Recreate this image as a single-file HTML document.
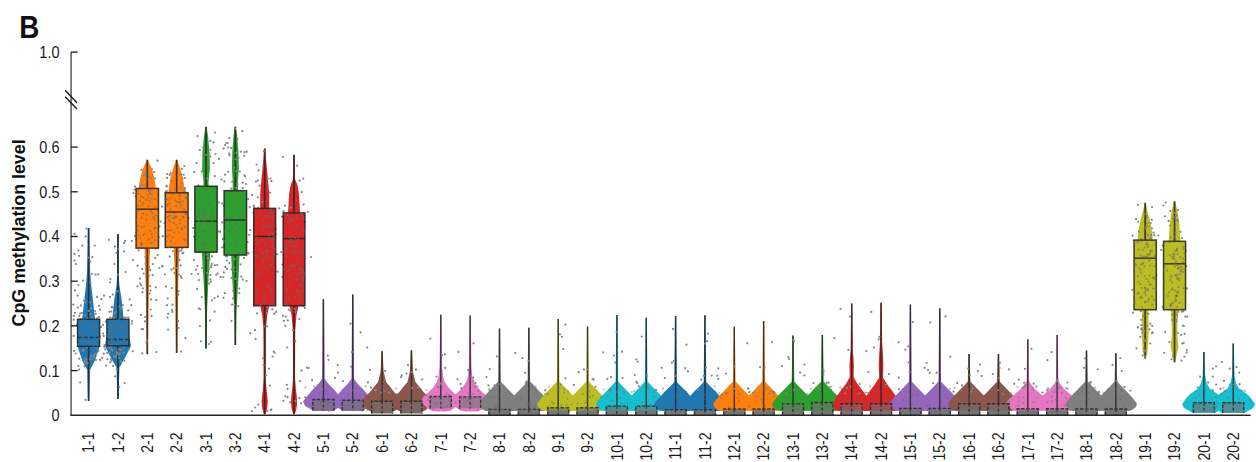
<!DOCTYPE html><html><head><meta charset="utf-8"><style>html,body{margin:0;padding:0;background:#fff;width:1256px;height:462px;overflow:hidden;position:relative}</style></head><body><svg width="1256" height="462" viewBox="0 0 1256 462" style="position:absolute;left:0;top:0">
<rect width="1256" height="462" fill="#fff"/>
<path d="M89.20,228.00 L89.60,250.00 L90.20,273.00 L91.30,286.00 L92.80,299.00 L94.20,312.00 L95.10,319.00 L99.60,346.00 L98.20,351.00 L94.30,362.00 L89.90,370.00 L89.60,385.00 L89.20,401.00 L88.00,401.00 L87.60,385.00 L87.30,370.00 L82.90,362.00 L79.00,351.00 L77.60,346.00 L82.10,319.00 L83.00,312.00 L84.40,299.00 L85.90,286.00 L87.00,273.00 L87.60,250.00 L88.00,228.00Z" fill="#1f77b4"/>
<path d="M118.55,234.00 L118.95,279.00 L119.45,286.00 L121.55,299.00 L122.95,312.00 L123.55,319.00 L129.95,340.00 L130.95,345.80 L128.95,350.00 L125.55,356.70 L119.45,367.50 L118.95,385.00 L118.55,399.00 L117.35,399.00 L116.95,385.00 L116.45,367.50 L110.35,356.70 L106.95,350.00 L104.95,345.80 L105.95,340.00 L112.35,319.00 L112.95,312.00 L114.35,299.00 L116.45,286.00 L116.95,279.00 L117.35,234.00Z" fill="#1f77b4"/>
<path d="M147.80,159.75 L149.10,163.00 L150.70,166.30 L152.70,171.70 L154.10,177.00 L155.10,182.50 L155.90,188.50 L150.10,248.00 L148.80,290.00 L148.20,330.00 L147.80,354.00 L146.80,354.00 L146.40,330.00 L145.80,290.00 L144.50,248.00 L138.70,188.50 L139.50,182.50 L140.50,177.00 L141.90,171.70 L143.90,166.30 L145.50,163.00 L146.80,159.75Z" fill="#ff7f0e"/>
<path d="M177.15,159.75 L178.15,163.00 L179.45,166.30 L181.05,171.70 L182.65,177.00 L183.65,182.50 L184.45,188.00 L184.95,192.80 L179.55,247.40 L178.35,280.00 L177.55,330.00 L177.15,353.00 L176.15,353.00 L175.75,330.00 L174.95,280.00 L173.75,247.40 L168.35,192.80 L168.85,188.00 L169.65,182.50 L170.65,177.00 L172.25,171.70 L173.85,166.30 L175.15,163.00 L176.15,159.75Z" fill="#ff7f0e"/>
<path d="M206.50,126.80 L208.10,136.20 L209.50,152.50 L209.90,168.70 L208.50,181.70 L208.70,186.30 L210.20,252.10 L208.40,280.70 L207.00,311.70 L206.50,348.60 L205.50,348.60 L205.00,311.70 L203.60,280.70 L201.80,252.10 L203.30,186.30 L203.50,181.70 L202.10,168.70 L202.50,152.50 L203.90,136.20 L205.50,126.80Z" fill="#2ca02c"/>
<path d="M235.85,126.80 L237.15,136.00 L238.45,152.00 L238.85,168.00 L237.95,182.00 L238.05,190.70 L239.55,255.00 L238.35,281.00 L236.35,311.00 L235.85,345.00 L234.85,345.00 L234.35,311.00 L232.35,281.00 L231.15,255.00 L232.65,190.70 L232.75,182.00 L231.85,168.00 L232.25,152.00 L233.55,136.00 L234.85,126.80Z" fill="#2ca02c"/>
<path d="M265.20,148.60 L266.20,161.20 L267.80,177.50 L269.20,193.70 L269.20,206.70 L269.30,208.40 L269.20,305.70 L267.20,315.00 L265.90,330.00 L265.70,378.00 L266.60,390.00 L267.40,396.00 L267.80,402.00 L267.30,408.00 L266.00,412.50 L265.20,414.50 L264.20,414.50 L263.40,412.50 L262.10,408.00 L261.60,402.00 L262.00,396.00 L262.80,390.00 L263.70,378.00 L263.50,330.00 L262.20,315.00 L260.20,305.70 L260.10,208.40 L260.20,206.70 L260.20,193.70 L261.60,177.50 L263.20,161.20 L264.20,148.60Z" fill="#d62728"/>
<path d="M294.55,154.70 L295.05,179.00 L297.55,185.60 L298.95,193.70 L299.75,206.70 L300.05,212.90 L298.55,305.70 L296.55,315.00 L295.25,330.00 L295.05,378.00 L295.95,390.00 L296.75,396.00 L297.15,402.00 L296.65,408.00 L295.35,412.50 L294.55,414.50 L293.55,414.50 L292.75,412.50 L291.45,408.00 L290.95,402.00 L291.35,396.00 L292.15,390.00 L293.05,378.00 L292.85,330.00 L291.55,315.00 L289.55,305.70 L288.05,212.90 L288.35,206.70 L289.15,193.70 L290.55,185.60 L293.05,179.00 L293.55,154.70Z" fill="#d62728"/>
<path d="M324.00,298.90 L324.70,378.80 L327.90,383.30 L334.00,389.40 L338.40,394.70 L343.90,401.50 L341.70,406.00 L336.40,409.00 L333.40,411.00 L313.40,411.00 L310.40,409.00 L305.10,406.00 L302.90,401.50 L308.40,394.70 L312.80,389.40 L318.90,383.30 L322.10,378.80 L322.80,298.90Z" fill="#9467bd"/>
<path d="M353.35,294.60 L354.05,378.80 L357.25,383.30 L363.35,389.40 L367.75,394.70 L373.25,401.50 L371.05,406.00 L365.75,409.00 L362.75,411.00 L342.75,411.00 L339.75,409.00 L334.45,406.00 L332.25,401.50 L337.75,394.70 L342.15,389.40 L348.25,383.30 L351.45,378.80 L352.15,294.60Z" fill="#9467bd"/>
<path d="M382.70,351.30 L383.60,371.20 L384.80,376.60 L386.10,382.00 L388.00,384.20 L390.70,387.40 L394.80,392.80 L398.90,396.00 L401.10,401.50 L399.60,407.00 L396.60,410.00 L393.10,411.50 L371.10,411.50 L367.60,410.00 L364.60,407.00 L363.10,401.50 L365.30,396.00 L369.40,392.80 L373.50,387.40 L376.20,384.20 L378.10,382.00 L379.40,376.60 L380.60,371.20 L381.50,351.30Z" fill="#8c564b"/>
<path d="M412.05,350.30 L412.95,371.20 L414.15,376.60 L415.45,382.00 L417.35,384.20 L420.05,387.40 L424.15,392.80 L428.25,396.00 L430.45,401.50 L428.95,407.00 L425.95,410.00 L422.45,411.50 L400.45,411.50 L396.95,410.00 L393.95,407.00 L392.45,401.50 L394.65,396.00 L398.75,392.80 L402.85,387.40 L405.55,384.20 L407.45,382.00 L408.75,376.60 L409.95,371.20 L410.85,350.30Z" fill="#8c564b"/>
<path d="M441.40,314.80 L442.10,366.00 L443.00,376.60 L444.80,382.00 L448.40,387.40 L453.50,392.80 L457.60,396.00 L460.20,400.00 L458.80,404.00 L455.50,407.00 L450.80,410.50 L445.80,411.50 L435.80,411.50 L430.80,410.50 L426.10,407.00 L422.80,404.00 L421.40,400.00 L424.00,396.00 L428.10,392.80 L433.20,387.40 L436.80,382.00 L438.60,376.60 L439.50,366.00 L440.20,314.80Z" fill="#e377c2"/>
<path d="M470.75,315.50 L471.45,366.00 L472.35,376.60 L474.15,382.00 L477.75,387.40 L482.85,392.80 L486.95,396.00 L489.55,400.00 L488.15,404.00 L484.85,407.00 L480.15,410.50 L475.15,411.50 L465.15,411.50 L460.15,410.50 L455.45,407.00 L452.15,404.00 L450.75,400.00 L453.35,396.00 L457.45,392.80 L462.55,387.40 L466.15,382.00 L467.95,376.60 L468.85,366.00 L469.55,315.50Z" fill="#e377c2"/>
<path d="M500.10,328.60 L500.80,381.50 L504.50,385.50 L510.30,391.50 L514.20,395.60 L517.50,399.50 L520.50,403.50 L520.00,406.50 L516.50,409.50 L513.00,411.00 L486.00,411.00 L482.50,409.50 L479.00,406.50 L478.50,403.50 L481.50,399.50 L484.80,395.60 L488.70,391.50 L494.50,385.50 L498.20,381.50 L498.90,328.60Z" fill="#7f7f7f"/>
<path d="M529.45,327.80 L530.15,381.50 L533.85,385.50 L539.65,391.50 L543.55,395.60 L546.85,399.50 L549.85,403.50 L549.35,406.50 L545.85,409.50 L542.35,411.00 L515.35,411.00 L511.85,409.50 L508.35,406.50 L507.85,403.50 L510.85,399.50 L514.15,395.60 L518.05,391.50 L523.85,385.50 L527.55,381.50 L528.25,327.80Z" fill="#7f7f7f"/>
<path d="M558.80,319.00 L559.50,381.50 L563.20,385.50 L569.00,391.50 L572.90,395.60 L576.20,399.50 L579.20,403.50 L578.70,406.50 L575.20,409.50 L571.70,411.00 L544.70,411.00 L541.20,409.50 L537.70,406.50 L537.20,403.50 L540.20,399.50 L543.50,395.60 L547.40,391.50 L553.20,385.50 L556.90,381.50 L557.60,319.00Z" fill="#bcbd22"/>
<path d="M588.15,326.50 L588.85,381.50 L592.55,385.50 L598.35,391.50 L602.25,395.60 L605.55,399.50 L608.55,403.50 L608.05,406.50 L604.55,409.50 L601.05,411.00 L574.05,411.00 L570.55,409.50 L567.05,406.50 L566.55,403.50 L569.55,399.50 L572.85,395.60 L576.75,391.50 L582.55,385.50 L586.25,381.50 L586.95,326.50Z" fill="#bcbd22"/>
<path d="M617.50,315.00 L618.20,381.50 L621.90,385.50 L627.70,391.50 L631.60,395.60 L634.90,399.50 L637.90,403.50 L637.40,406.50 L633.90,409.50 L630.40,411.00 L603.40,411.00 L599.90,409.50 L596.40,406.50 L595.90,403.50 L598.90,399.50 L602.20,395.60 L606.10,391.50 L611.90,385.50 L615.60,381.50 L616.30,315.00Z" fill="#17becf"/>
<path d="M646.85,317.70 L647.55,381.50 L651.25,385.50 L657.05,391.50 L660.95,395.60 L664.25,399.50 L667.25,403.50 L666.75,406.50 L663.25,409.50 L659.75,411.00 L632.75,411.00 L629.25,409.50 L625.75,406.50 L625.25,403.50 L628.25,399.50 L631.55,395.60 L635.45,391.50 L641.25,385.50 L644.95,381.50 L645.65,317.70Z" fill="#17becf"/>
<path d="M676.20,316.00 L676.90,382.00 L680.60,386.00 L686.40,391.50 L690.30,396.00 L693.60,399.50 L697.10,403.50 L696.60,406.50 L692.60,409.50 L689.10,411.00 L662.10,411.00 L658.60,409.50 L654.60,406.50 L654.10,403.50 L657.60,399.50 L660.90,396.00 L664.80,391.50 L670.60,386.00 L674.30,382.00 L675.00,316.00Z" fill="#1f77b4"/>
<path d="M705.55,315.30 L706.25,382.00 L709.95,386.00 L715.75,391.50 L719.65,396.00 L722.95,399.50 L726.45,403.50 L725.95,406.50 L721.95,409.50 L718.45,411.00 L691.45,411.00 L687.95,409.50 L683.95,406.50 L683.45,403.50 L686.95,399.50 L690.25,396.00 L694.15,391.50 L699.95,386.00 L703.65,382.00 L704.35,315.30Z" fill="#1f77b4"/>
<path d="M734.90,326.60 L735.60,381.50 L739.30,385.50 L745.10,391.50 L749.00,395.60 L752.30,399.50 L755.30,403.50 L754.80,406.50 L751.30,409.50 L747.80,411.00 L720.80,411.00 L717.30,409.50 L713.80,406.50 L713.30,403.50 L716.30,399.50 L719.60,395.60 L723.50,391.50 L729.30,385.50 L733.00,381.50 L733.70,326.60Z" fill="#ff7f0e"/>
<path d="M764.25,321.00 L764.95,381.50 L768.65,385.50 L774.45,391.50 L778.35,395.60 L781.65,399.50 L784.65,403.50 L784.15,406.50 L780.65,409.50 L777.15,411.00 L750.15,411.00 L746.65,409.50 L743.15,406.50 L742.65,403.50 L745.65,399.50 L748.95,395.60 L752.85,391.50 L758.65,385.50 L762.35,381.50 L763.05,321.00Z" fill="#ff7f0e"/>
<path d="M793.60,335.60 L794.30,381.50 L798.00,385.50 L803.80,391.50 L807.70,395.60 L811.00,399.50 L814.00,403.50 L813.50,406.50 L810.00,409.50 L806.50,411.00 L779.50,411.00 L776.00,409.50 L772.50,406.50 L772.00,403.50 L775.00,399.50 L778.30,395.60 L782.20,391.50 L788.00,385.50 L791.70,381.50 L792.40,335.60Z" fill="#2ca02c"/>
<path d="M822.95,335.00 L823.65,381.50 L827.35,385.50 L833.15,391.50 L837.05,395.60 L840.35,399.50 L843.35,403.50 L842.85,406.50 L839.35,409.50 L835.85,411.00 L808.85,411.00 L805.35,409.50 L801.85,406.50 L801.35,403.50 L804.35,399.50 L807.65,395.60 L811.55,391.50 L817.35,385.50 L821.05,381.50 L821.75,335.00Z" fill="#2ca02c"/>
<path d="M852.30,303.50 L852.80,350.00 L853.50,358.00 L853.90,366.00 L853.60,377.00 L857.20,383.50 L862.20,390.00 L866.70,396.30 L869.10,400.70 L871.70,405.00 L870.70,408.00 L865.70,411.00 L837.70,411.00 L832.70,408.00 L831.70,405.00 L834.30,400.70 L836.70,396.30 L841.20,390.00 L846.20,383.50 L849.80,377.00 L849.50,366.00 L849.90,358.00 L850.60,350.00 L851.10,303.50Z" fill="#d62728"/>
<path d="M881.65,302.70 L882.15,342.40 L883.05,356.80 L883.35,365.00 L882.95,377.40 L888.05,385.60 L891.55,390.00 L896.05,396.30 L898.45,400.70 L901.05,405.00 L900.05,408.00 L895.05,411.00 L867.05,411.00 L862.05,408.00 L861.05,405.00 L863.65,400.70 L866.05,396.30 L870.55,390.00 L874.05,385.60 L879.15,377.40 L878.75,365.00 L879.05,356.80 L879.95,342.40 L880.45,302.70Z" fill="#d62728"/>
<path d="M911.00,304.60 L911.70,381.50 L915.40,385.50 L921.20,391.50 L925.10,395.60 L928.40,399.50 L931.40,403.50 L930.90,406.50 L927.40,409.50 L923.90,411.00 L896.90,411.00 L893.40,409.50 L889.90,406.50 L889.40,403.50 L892.40,399.50 L895.70,395.60 L899.60,391.50 L905.40,385.50 L909.10,381.50 L909.80,304.60Z" fill="#9467bd"/>
<path d="M940.35,308.30 L941.05,381.50 L944.75,385.50 L950.55,391.50 L954.45,395.60 L957.75,399.50 L960.75,403.50 L960.25,406.50 L956.75,409.50 L953.25,411.00 L926.25,411.00 L922.75,409.50 L919.25,406.50 L918.75,403.50 L921.75,399.50 L925.05,395.60 L928.95,391.50 L934.75,385.50 L938.45,381.50 L939.15,308.30Z" fill="#9467bd"/>
<path d="M969.70,354.10 L970.40,381.50 L974.10,385.50 L979.90,391.50 L983.80,395.60 L987.10,399.50 L990.10,403.50 L989.60,406.50 L986.10,409.50 L982.60,411.00 L955.60,411.00 L952.10,409.50 L948.60,406.50 L948.10,403.50 L951.10,399.50 L954.40,395.60 L958.30,391.50 L964.10,385.50 L967.80,381.50 L968.50,354.10Z" fill="#8c564b"/>
<path d="M999.05,354.00 L999.75,381.50 L1003.45,385.50 L1009.25,391.50 L1013.15,395.60 L1016.45,399.50 L1019.45,403.50 L1018.95,406.50 L1015.45,409.50 L1011.95,411.00 L984.95,411.00 L981.45,409.50 L977.95,406.50 L977.45,403.50 L980.45,399.50 L983.75,395.60 L987.65,391.50 L993.45,385.50 L997.15,381.50 L997.85,354.00Z" fill="#8c564b"/>
<path d="M1028.40,339.30 L1029.00,380.50 L1030.30,383.30 L1035.40,389.40 L1042.50,395.50 L1049.00,401.50 L1048.30,405.00 L1043.80,409.80 L1041.30,411.00 L1014.30,411.00 L1011.80,409.80 L1007.30,405.00 L1006.60,401.50 L1013.10,395.50 L1020.20,389.40 L1025.30,383.30 L1026.60,380.50 L1027.20,339.30Z" fill="#e377c2"/>
<path d="M1057.75,335.00 L1058.35,380.50 L1059.65,383.30 L1064.75,389.40 L1071.85,395.50 L1078.35,401.50 L1077.65,405.00 L1073.15,409.80 L1070.65,411.00 L1043.65,411.00 L1041.15,409.80 L1036.65,405.00 L1035.95,401.50 L1042.45,395.50 L1049.55,389.40 L1054.65,383.30 L1055.95,380.50 L1056.55,335.00Z" fill="#e377c2"/>
<path d="M1087.10,350.50 L1087.80,381.50 L1091.50,385.50 L1097.30,391.50 L1101.20,395.60 L1104.50,399.50 L1107.50,403.50 L1107.00,406.50 L1103.50,409.50 L1100.00,411.00 L1073.00,411.00 L1069.50,409.50 L1066.00,406.50 L1065.50,403.50 L1068.50,399.50 L1071.80,395.60 L1075.70,391.50 L1081.50,385.50 L1085.20,381.50 L1085.90,350.50Z" fill="#7f7f7f"/>
<path d="M1116.45,353.30 L1117.15,381.50 L1120.85,385.50 L1126.65,391.50 L1130.55,395.60 L1133.85,399.50 L1136.85,403.50 L1136.35,406.50 L1132.85,409.50 L1129.35,411.00 L1102.35,411.00 L1098.85,409.50 L1095.35,406.50 L1094.85,403.50 L1097.85,399.50 L1101.15,395.60 L1105.05,391.50 L1110.85,385.50 L1114.55,381.50 L1115.25,353.30Z" fill="#7f7f7f"/>
<path d="M1145.70,202.70 L1147.40,211.00 L1150.30,222.00 L1152.20,233.00 L1152.70,240.10 L1148.40,309.70 L1148.40,312.00 L1148.70,333.00 L1147.70,351.40 L1145.70,358.40 L1144.70,358.40 L1142.70,351.40 L1141.70,333.00 L1142.00,312.00 L1142.00,309.70 L1137.70,240.10 L1138.20,233.00 L1140.10,222.00 L1143.00,211.00 L1144.70,202.70Z" fill="#bcbd22"/>
<path d="M1175.05,201.30 L1177.55,211.00 L1179.15,222.00 L1179.95,233.00 L1180.35,241.30 L1178.45,309.70 L1177.35,326.00 L1177.35,336.00 L1178.45,347.00 L1175.05,362.30 L1174.05,362.30 L1170.65,347.00 L1171.75,336.00 L1171.75,326.00 L1170.65,309.70 L1168.75,241.30 L1169.15,233.00 L1169.95,222.00 L1171.55,211.00 L1174.05,201.30Z" fill="#bcbd22"/>
<path d="M1204.50,352.00 L1205.20,376.00 L1206.70,383.00 L1209.70,388.40 L1217.90,394.20 L1221.40,398.00 L1225.70,404.00 L1223.90,408.00 L1215.40,412.80 L1192.40,412.80 L1183.90,408.00 L1182.10,404.00 L1186.40,398.00 L1189.90,394.20 L1198.10,388.40 L1201.10,383.00 L1202.60,376.00 L1203.30,352.00Z" fill="#17becf"/>
<path d="M1233.85,343.60 L1234.55,376.00 L1236.05,383.00 L1239.05,388.40 L1247.25,394.20 L1250.75,398.00 L1255.05,404.00 L1253.25,408.00 L1244.75,412.80 L1221.75,412.80 L1213.25,408.00 L1211.45,404.00 L1215.75,398.00 L1219.25,394.20 L1227.45,388.40 L1230.45,383.00 L1231.95,376.00 L1232.65,343.60Z" fill="#17becf"/>
<path d="M88.60 228.00V319.30M88.60 346.30V401.00" stroke="#263139" stroke-width="1.7"/>
<path d="M117.95 234.00V319.30M117.95 345.80V399.00" stroke="#263139" stroke-width="1.7"/>
<path d="M147.30 159.75V188.50M147.30 248.10V354.30" stroke="#423223" stroke-width="1.7"/>
<path d="M176.65 159.75V192.80M176.65 247.40V353.00" stroke="#423223" stroke-width="1.7"/>
<path d="M206.00 126.80V186.30M206.00 252.10V348.60" stroke="#273627" stroke-width="1.7"/>
<path d="M235.35 126.80V190.70M235.35 255.00V345.00" stroke="#273627" stroke-width="1.7"/>
<path d="M264.70 148.60V208.40M264.70 305.70V414.00" stroke="#3d2627" stroke-width="1.7"/>
<path d="M294.05 154.70V212.90M294.05 305.70V414.00" stroke="#3d2627" stroke-width="1.7"/>
<line x1="323.40" y1="298.90" x2="323.40" y2="399.50" stroke="#342f3a" stroke-width="1.45"/>
<rect x="312.40" y="399.50" width="22" height="11.10" fill="#7e6c8f"/>
<path d="M312.90 410.60V399.50H333.90V410.60" fill="none" stroke="#342f3a" stroke-width="1.4" stroke-dasharray="3.5,1.5"/>
<line x1="323.40" y1="399.50" x2="323.40" y2="410.60" stroke="#342f3a" stroke-width="1.3" stroke-dasharray="3,2"/>
<line x1="352.75" y1="294.60" x2="352.75" y2="400.30" stroke="#342f3a" stroke-width="1.45"/>
<rect x="341.75" y="400.30" width="22" height="10.30" fill="#7e6c8f"/>
<path d="M342.25 410.60V400.30H363.25V410.60" fill="none" stroke="#342f3a" stroke-width="1.4" stroke-dasharray="3.5,1.5"/>
<line x1="352.75" y1="400.30" x2="352.75" y2="410.60" stroke="#342f3a" stroke-width="1.3" stroke-dasharray="3,2"/>
<line x1="382.10" y1="351.30" x2="382.10" y2="401.30" stroke="#342d2b" stroke-width="1.45"/>
<rect x="371.10" y="401.30" width="22" height="12.20" fill="#7b6661"/>
<path d="M371.60 413.50V401.30H392.60V413.50" fill="none" stroke="#342d2b" stroke-width="1.4" stroke-dasharray="3.5,1.5"/>
<line x1="382.10" y1="401.30" x2="382.10" y2="413.50" stroke="#342d2b" stroke-width="1.3" stroke-dasharray="3,2"/>
<line x1="411.45" y1="350.30" x2="411.45" y2="401.30" stroke="#342d2b" stroke-width="1.45"/>
<rect x="400.45" y="401.30" width="22" height="12.20" fill="#7b6661"/>
<path d="M400.95 413.50V401.30H421.95V413.50" fill="none" stroke="#342d2b" stroke-width="1.4" stroke-dasharray="3.5,1.5"/>
<line x1="411.45" y1="401.30" x2="411.45" y2="413.50" stroke="#342d2b" stroke-width="1.3" stroke-dasharray="3,2"/>
<line x1="440.80" y1="314.80" x2="440.80" y2="396.50" stroke="#3f313a" stroke-width="1.45"/>
<rect x="429.80" y="396.50" width="22" height="11.90" fill="#9e7391"/>
<path d="M430.30 408.40V396.50H451.30V408.40" fill="none" stroke="#3f313a" stroke-width="1.4" stroke-dasharray="3.5,1.5"/>
<line x1="440.80" y1="396.50" x2="440.80" y2="408.40" stroke="#3f313a" stroke-width="1.3" stroke-dasharray="3,2"/>
<line x1="470.15" y1="315.50" x2="470.15" y2="396.90" stroke="#3f313a" stroke-width="1.45"/>
<rect x="459.15" y="396.90" width="22" height="11.50" fill="#9e7391"/>
<path d="M459.65 408.40V396.90H480.65V408.40" fill="none" stroke="#3f313a" stroke-width="1.4" stroke-dasharray="3.5,1.5"/>
<line x1="470.15" y1="396.90" x2="470.15" y2="408.40" stroke="#3f313a" stroke-width="1.3" stroke-dasharray="3,2"/>
<line x1="499.50" y1="328.60" x2="499.50" y2="409.40" stroke="#323232" stroke-width="1.45"/>
<rect x="488.50" y="409.40" width="22" height="5.60" fill="#767676"/>
<rect x="488.50" y="410.6" width="22" height="4.40" fill="#757575"/>
<path d="M489.00 415.00V409.40H510.00V415.00" fill="none" stroke="#323232" stroke-width="1.4" stroke-dasharray="3.5,1.5"/>
<line x1="499.50" y1="409.40" x2="499.50" y2="415.00" stroke="#323232" stroke-width="1.3" stroke-dasharray="3,2"/>
<line x1="528.85" y1="327.80" x2="528.85" y2="409.40" stroke="#323232" stroke-width="1.45"/>
<rect x="517.85" y="409.40" width="22" height="5.60" fill="#767676"/>
<rect x="517.85" y="410.6" width="22" height="4.40" fill="#757575"/>
<path d="M518.35 415.00V409.40H539.35V415.00" fill="none" stroke="#323232" stroke-width="1.4" stroke-dasharray="3.5,1.5"/>
<line x1="528.85" y1="409.40" x2="528.85" y2="415.00" stroke="#323232" stroke-width="1.3" stroke-dasharray="3,2"/>
<line x1="558.20" y1="319.00" x2="558.20" y2="407.80" stroke="#3a3a26" stroke-width="1.45"/>
<rect x="547.20" y="407.80" width="22" height="7.20" fill="#8e8f51"/>
<rect x="547.20" y="410.6" width="22" height="4.40" fill="#757575"/>
<path d="M547.70 415.00V407.80H568.70V415.00" fill="none" stroke="#3a3a26" stroke-width="1.4" stroke-dasharray="3.5,1.5"/>
<line x1="558.20" y1="407.80" x2="558.20" y2="415.00" stroke="#3a3a26" stroke-width="1.3" stroke-dasharray="3,2"/>
<line x1="587.55" y1="326.50" x2="587.55" y2="407.80" stroke="#3a3a26" stroke-width="1.45"/>
<rect x="576.55" y="407.80" width="22" height="7.20" fill="#8e8f51"/>
<rect x="576.55" y="410.6" width="22" height="4.40" fill="#757575"/>
<path d="M577.05 415.00V407.80H598.05V415.00" fill="none" stroke="#3a3a26" stroke-width="1.4" stroke-dasharray="3.5,1.5"/>
<line x1="587.55" y1="407.80" x2="587.55" y2="415.00" stroke="#3a3a26" stroke-width="1.3" stroke-dasharray="3,2"/>
<line x1="616.90" y1="315.00" x2="616.90" y2="406.10" stroke="#243a3c" stroke-width="1.45"/>
<rect x="605.90" y="406.10" width="22" height="8.90" fill="#4c8f96"/>
<rect x="605.90" y="410.6" width="22" height="4.40" fill="#757575"/>
<path d="M606.40 415.00V406.10H627.40V415.00" fill="none" stroke="#243a3c" stroke-width="1.4" stroke-dasharray="3.5,1.5"/>
<line x1="616.90" y1="406.10" x2="616.90" y2="415.00" stroke="#243a3c" stroke-width="1.3" stroke-dasharray="3,2"/>
<line x1="646.25" y1="317.70" x2="646.25" y2="406.10" stroke="#243a3c" stroke-width="1.45"/>
<rect x="635.25" y="406.10" width="22" height="8.90" fill="#4c8f96"/>
<rect x="635.25" y="410.6" width="22" height="4.40" fill="#757575"/>
<path d="M635.75 415.00V406.10H656.75V415.00" fill="none" stroke="#243a3c" stroke-width="1.4" stroke-dasharray="3.5,1.5"/>
<line x1="646.25" y1="406.10" x2="646.25" y2="415.00" stroke="#243a3c" stroke-width="1.3" stroke-dasharray="3,2"/>
<line x1="675.60" y1="316.00" x2="675.60" y2="409.60" stroke="#263139" stroke-width="1.45"/>
<rect x="664.60" y="409.60" width="22" height="5.40" fill="#50738b"/>
<rect x="664.60" y="410.6" width="22" height="4.40" fill="#757575"/>
<path d="M665.10 415.00V409.60H686.10V415.00" fill="none" stroke="#263139" stroke-width="1.4" stroke-dasharray="3.5,1.5"/>
<line x1="675.60" y1="409.60" x2="675.60" y2="415.00" stroke="#263139" stroke-width="1.3" stroke-dasharray="3,2"/>
<line x1="704.95" y1="315.30" x2="704.95" y2="409.60" stroke="#263139" stroke-width="1.45"/>
<rect x="693.95" y="409.60" width="22" height="5.40" fill="#50738b"/>
<rect x="693.95" y="410.6" width="22" height="4.40" fill="#757575"/>
<path d="M694.45 415.00V409.60H715.45V415.00" fill="none" stroke="#263139" stroke-width="1.4" stroke-dasharray="3.5,1.5"/>
<line x1="704.95" y1="409.60" x2="704.95" y2="415.00" stroke="#263139" stroke-width="1.3" stroke-dasharray="3,2"/>
<line x1="734.30" y1="326.60" x2="734.30" y2="409.00" stroke="#423223" stroke-width="1.45"/>
<rect x="723.30" y="409.00" width="22" height="6.00" fill="#a97649"/>
<rect x="723.30" y="410.6" width="22" height="4.40" fill="#757575"/>
<path d="M723.80 415.00V409.00H744.80V415.00" fill="none" stroke="#423223" stroke-width="1.4" stroke-dasharray="3.5,1.5"/>
<line x1="734.30" y1="409.00" x2="734.30" y2="415.00" stroke="#423223" stroke-width="1.3" stroke-dasharray="3,2"/>
<line x1="763.65" y1="321.00" x2="763.65" y2="409.00" stroke="#423223" stroke-width="1.45"/>
<rect x="752.65" y="409.00" width="22" height="6.00" fill="#a97649"/>
<rect x="752.65" y="410.6" width="22" height="4.40" fill="#757575"/>
<path d="M753.15 415.00V409.00H774.15V415.00" fill="none" stroke="#423223" stroke-width="1.4" stroke-dasharray="3.5,1.5"/>
<line x1="763.65" y1="409.00" x2="763.65" y2="415.00" stroke="#423223" stroke-width="1.3" stroke-dasharray="3,2"/>
<line x1="793.00" y1="335.60" x2="793.00" y2="403.90" stroke="#273627" stroke-width="1.45"/>
<rect x="782.00" y="403.90" width="22" height="11.10" fill="#558355"/>
<rect x="782.00" y="410.6" width="22" height="4.40" fill="#757575"/>
<path d="M782.50 415.00V403.90H803.50V415.00" fill="none" stroke="#273627" stroke-width="1.4" stroke-dasharray="3.5,1.5"/>
<line x1="793.00" y1="403.90" x2="793.00" y2="415.00" stroke="#273627" stroke-width="1.3" stroke-dasharray="3,2"/>
<line x1="822.35" y1="335.00" x2="822.35" y2="402.50" stroke="#273627" stroke-width="1.45"/>
<rect x="811.35" y="402.50" width="22" height="12.50" fill="#558355"/>
<rect x="811.35" y="410.6" width="22" height="4.40" fill="#757575"/>
<path d="M811.85 415.00V402.50H832.85V415.00" fill="none" stroke="#273627" stroke-width="1.4" stroke-dasharray="3.5,1.5"/>
<line x1="822.35" y1="402.50" x2="822.35" y2="415.00" stroke="#273627" stroke-width="1.3" stroke-dasharray="3,2"/>
<line x1="851.70" y1="303.50" x2="851.70" y2="403.80" stroke="#3d2627" stroke-width="1.45"/>
<rect x="840.70" y="403.80" width="22" height="11.20" fill="#995353"/>
<rect x="840.70" y="410.6" width="22" height="4.40" fill="#757575"/>
<path d="M841.20 415.00V403.80H862.20V415.00" fill="none" stroke="#3d2627" stroke-width="1.4" stroke-dasharray="3.5,1.5"/>
<line x1="851.70" y1="403.80" x2="851.70" y2="415.00" stroke="#3d2627" stroke-width="1.3" stroke-dasharray="3,2"/>
<line x1="881.05" y1="302.70" x2="881.05" y2="403.80" stroke="#3d2627" stroke-width="1.45"/>
<rect x="870.05" y="403.80" width="22" height="11.20" fill="#995353"/>
<rect x="870.05" y="410.6" width="22" height="4.40" fill="#757575"/>
<path d="M870.55 415.00V403.80H891.55V415.00" fill="none" stroke="#3d2627" stroke-width="1.4" stroke-dasharray="3.5,1.5"/>
<line x1="881.05" y1="403.80" x2="881.05" y2="415.00" stroke="#3d2627" stroke-width="1.3" stroke-dasharray="3,2"/>
<line x1="910.40" y1="304.60" x2="910.40" y2="408.40" stroke="#342f3a" stroke-width="1.45"/>
<rect x="899.40" y="408.40" width="22" height="6.60" fill="#7e6c8f"/>
<rect x="899.40" y="410.6" width="22" height="4.40" fill="#757575"/>
<path d="M899.90 415.00V408.40H920.90V415.00" fill="none" stroke="#342f3a" stroke-width="1.4" stroke-dasharray="3.5,1.5"/>
<line x1="910.40" y1="408.40" x2="910.40" y2="415.00" stroke="#342f3a" stroke-width="1.3" stroke-dasharray="3,2"/>
<line x1="939.75" y1="308.30" x2="939.75" y2="408.40" stroke="#342f3a" stroke-width="1.45"/>
<rect x="928.75" y="408.40" width="22" height="6.60" fill="#7e6c8f"/>
<rect x="928.75" y="410.6" width="22" height="4.40" fill="#757575"/>
<path d="M929.25 415.00V408.40H950.25V415.00" fill="none" stroke="#342f3a" stroke-width="1.4" stroke-dasharray="3.5,1.5"/>
<line x1="939.75" y1="408.40" x2="939.75" y2="415.00" stroke="#342f3a" stroke-width="1.3" stroke-dasharray="3,2"/>
<line x1="969.10" y1="354.10" x2="969.10" y2="403.80" stroke="#342d2b" stroke-width="1.45"/>
<rect x="958.10" y="403.80" width="22" height="11.20" fill="#7b6661"/>
<rect x="958.10" y="410.6" width="22" height="4.40" fill="#757575"/>
<path d="M958.60 415.00V403.80H979.60V415.00" fill="none" stroke="#342d2b" stroke-width="1.4" stroke-dasharray="3.5,1.5"/>
<line x1="969.10" y1="403.80" x2="969.10" y2="415.00" stroke="#342d2b" stroke-width="1.3" stroke-dasharray="3,2"/>
<line x1="998.45" y1="354.00" x2="998.45" y2="403.80" stroke="#342d2b" stroke-width="1.45"/>
<rect x="987.45" y="403.80" width="22" height="11.20" fill="#7b6661"/>
<rect x="987.45" y="410.6" width="22" height="4.40" fill="#757575"/>
<path d="M987.95 415.00V403.80H1008.95V415.00" fill="none" stroke="#342d2b" stroke-width="1.4" stroke-dasharray="3.5,1.5"/>
<line x1="998.45" y1="403.80" x2="998.45" y2="415.00" stroke="#342d2b" stroke-width="1.3" stroke-dasharray="3,2"/>
<line x1="1027.80" y1="339.30" x2="1027.80" y2="408.80" stroke="#3f313a" stroke-width="1.45"/>
<rect x="1016.80" y="408.80" width="22" height="6.20" fill="#9e7391"/>
<rect x="1016.80" y="410.6" width="22" height="4.40" fill="#757575"/>
<path d="M1017.30 415.00V408.80H1038.30V415.00" fill="none" stroke="#3f313a" stroke-width="1.4" stroke-dasharray="3.5,1.5"/>
<line x1="1027.80" y1="408.80" x2="1027.80" y2="415.00" stroke="#3f313a" stroke-width="1.3" stroke-dasharray="3,2"/>
<line x1="1057.15" y1="335.00" x2="1057.15" y2="408.80" stroke="#3f313a" stroke-width="1.45"/>
<rect x="1046.15" y="408.80" width="22" height="6.20" fill="#9e7391"/>
<rect x="1046.15" y="410.6" width="22" height="4.40" fill="#757575"/>
<path d="M1046.65 415.00V408.80H1067.65V415.00" fill="none" stroke="#3f313a" stroke-width="1.4" stroke-dasharray="3.5,1.5"/>
<line x1="1057.15" y1="408.80" x2="1057.15" y2="415.00" stroke="#3f313a" stroke-width="1.3" stroke-dasharray="3,2"/>
<line x1="1086.50" y1="350.50" x2="1086.50" y2="409.00" stroke="#323232" stroke-width="1.45"/>
<rect x="1075.50" y="409.00" width="22" height="6.00" fill="#767676"/>
<rect x="1075.50" y="410.6" width="22" height="4.40" fill="#757575"/>
<path d="M1076.00 415.00V409.00H1097.00V415.00" fill="none" stroke="#323232" stroke-width="1.4" stroke-dasharray="3.5,1.5"/>
<line x1="1086.50" y1="409.00" x2="1086.50" y2="415.00" stroke="#323232" stroke-width="1.3" stroke-dasharray="3,2"/>
<line x1="1115.85" y1="353.30" x2="1115.85" y2="409.00" stroke="#323232" stroke-width="1.45"/>
<rect x="1104.85" y="409.00" width="22" height="6.00" fill="#767676"/>
<rect x="1104.85" y="410.6" width="22" height="4.40" fill="#757575"/>
<path d="M1105.35 415.00V409.00H1126.35V415.00" fill="none" stroke="#323232" stroke-width="1.4" stroke-dasharray="3.5,1.5"/>
<line x1="1115.85" y1="409.00" x2="1115.85" y2="415.00" stroke="#323232" stroke-width="1.3" stroke-dasharray="3,2"/>
<path d="M1145.20 202.70V240.10M1145.20 309.70V358.40" stroke="#3a3a26" stroke-width="1.7"/>
<path d="M1174.55 201.30V241.30M1174.55 309.70V362.30" stroke="#3a3a26" stroke-width="1.7"/>
<line x1="1203.90" y1="352.00" x2="1203.90" y2="402.70" stroke="#243a3c" stroke-width="1.45"/>
<rect x="1192.90" y="402.70" width="22" height="10.10" fill="#4c8f96"/>
<path d="M1193.40 412.80V402.70H1214.40V412.80" fill="none" stroke="#243a3c" stroke-width="1.4" stroke-dasharray="3.5,1.5"/>
<line x1="1203.90" y1="402.70" x2="1203.90" y2="412.80" stroke="#243a3c" stroke-width="1.3" stroke-dasharray="3,2"/>
<line x1="1233.25" y1="343.60" x2="1233.25" y2="402.70" stroke="#243a3c" stroke-width="1.45"/>
<rect x="1222.25" y="402.70" width="22" height="10.10" fill="#4c8f96"/>
<path d="M1222.75 412.80V402.70H1243.75V412.80" fill="none" stroke="#243a3c" stroke-width="1.4" stroke-dasharray="3.5,1.5"/>
<line x1="1233.25" y1="402.70" x2="1233.25" y2="412.80" stroke="#243a3c" stroke-width="1.3" stroke-dasharray="3,2"/>
<g fill="#858585"><circle cx="77.7" cy="307.5" r="1.1"/><circle cx="73.8" cy="315.8" r="1.1"/><circle cx="84.0" cy="300.5" r="1.1"/><circle cx="83.3" cy="349.6" r="1.1"/><circle cx="96.5" cy="347.7" r="1.1"/><circle cx="80.9" cy="305.4" r="1.1"/><circle cx="94.6" cy="354.5" r="1.1"/><circle cx="85.9" cy="361.4" r="1.1"/><circle cx="74.4" cy="260.6" r="1.1"/><circle cx="85.6" cy="302.2" r="1.1"/><circle cx="85.1" cy="315.4" r="1.1"/><circle cx="101.0" cy="326.9" r="1.1"/><circle cx="103.1" cy="333.5" r="1.1"/><circle cx="76.8" cy="324.7" r="1.1"/><circle cx="75.9" cy="264.1" r="1.1"/><circle cx="74.4" cy="254.2" r="1.1"/><circle cx="84.5" cy="361.9" r="1.1"/><circle cx="79.3" cy="358.7" r="1.1"/><circle cx="95.9" cy="359.9" r="1.1"/><circle cx="73.8" cy="319.7" r="1.1"/><circle cx="106.2" cy="365.6" r="1.1"/><circle cx="80.1" cy="313.6" r="1.1"/><circle cx="91.4" cy="356.3" r="1.1"/><circle cx="91.9" cy="359.6" r="1.1"/><circle cx="100.1" cy="309.7" r="1.1"/><circle cx="101.2" cy="299.2" r="1.1"/><circle cx="79.4" cy="316.1" r="1.1"/><circle cx="82.3" cy="245.6" r="1.1"/><circle cx="95.6" cy="313.9" r="1.1"/><circle cx="91.4" cy="355.9" r="1.1"/><circle cx="96.0" cy="353.9" r="1.1"/><circle cx="73.2" cy="304.7" r="1.1"/><circle cx="83.3" cy="350.5" r="1.1"/><circle cx="84.6" cy="361.6" r="1.1"/><circle cx="80.1" cy="382.5" r="1.1"/><circle cx="90.6" cy="314.2" r="1.1"/><circle cx="88.3" cy="257.6" r="1.1"/><circle cx="73.9" cy="350.9" r="1.1"/><circle cx="88.7" cy="310.9" r="1.1"/><circle cx="86.9" cy="347.1" r="1.1"/><circle cx="96.5" cy="346.7" r="1.1"/><circle cx="74.8" cy="312.8" r="1.1"/><circle cx="79.2" cy="255.8" r="1.1"/><circle cx="93.9" cy="355.3" r="1.1"/><circle cx="89.9" cy="358.8" r="1.1"/><circle cx="78.4" cy="250.5" r="1.1"/><circle cx="97.1" cy="296.9" r="1.1"/><circle cx="84.6" cy="366.4" r="1.1"/><circle cx="85.7" cy="236.4" r="1.1"/><circle cx="74.6" cy="233.8" r="1.1"/><circle cx="83.1" cy="280.6" r="1.1"/><circle cx="91.1" cy="308.4" r="1.1"/><circle cx="100.0" cy="359.9" r="1.1"/><circle cx="73.6" cy="335.9" r="1.1"/><circle cx="94.0" cy="357.1" r="1.1"/><circle cx="94.8" cy="245.5" r="1.1"/><circle cx="77.7" cy="295.6" r="1.1"/><circle cx="99.0" cy="317.2" r="1.1"/><circle cx="80.7" cy="319.2" r="1.1"/><circle cx="95.5" cy="274.5" r="1.1"/><circle cx="79.2" cy="369.5" r="1.1"/><circle cx="99.0" cy="305.8" r="1.1"/><circle cx="85.1" cy="358.7" r="1.1"/><circle cx="86.5" cy="228.6" r="1.1"/><circle cx="95.1" cy="311.0" r="1.1"/><circle cx="98.3" cy="274.3" r="1.1"/><circle cx="102.2" cy="357.9" r="1.1"/><circle cx="90.5" cy="282.5" r="1.1"/><circle cx="78.3" cy="285.0" r="1.1"/><circle cx="82.6" cy="350.9" r="1.1"/><circle cx="97.3" cy="318.3" r="1.1"/><circle cx="75.0" cy="290.4" r="1.1"/><circle cx="86.1" cy="359.2" r="1.1"/><circle cx="98.5" cy="350.7" r="1.1"/><circle cx="104.0" cy="295.7" r="1.1"/><circle cx="81.9" cy="312.8" r="1.1"/><circle cx="86.6" cy="363.3" r="1.1"/><circle cx="90.4" cy="302.3" r="1.1"/><circle cx="87.6" cy="318.7" r="1.1"/><circle cx="92.3" cy="256.9" r="1.1"/><circle cx="90.3" cy="261.5" r="1.1"/><circle cx="75.7" cy="353.5" r="1.1"/><circle cx="92.1" cy="317.6" r="1.1"/><circle cx="78.4" cy="366.0" r="1.1"/><circle cx="87.5" cy="363.2" r="1.1"/><circle cx="92.0" cy="273.8" r="1.1"/><circle cx="85.5" cy="399.9" r="1.1"/><circle cx="112.8" cy="294.6" r="1.1"/><circle cx="115.0" cy="246.6" r="1.1"/><circle cx="115.8" cy="312.1" r="1.1"/><circle cx="120.3" cy="350.2" r="1.1"/><circle cx="108.9" cy="239.8" r="1.1"/><circle cx="116.9" cy="352.3" r="1.1"/><circle cx="110.8" cy="347.1" r="1.1"/><circle cx="104.4" cy="345.0" r="1.1"/><circle cx="111.4" cy="360.9" r="1.1"/><circle cx="128.2" cy="317.6" r="1.1"/><circle cx="104.4" cy="346.8" r="1.1"/><circle cx="124.6" cy="383.0" r="1.1"/><circle cx="115.1" cy="376.4" r="1.1"/><circle cx="131.3" cy="305.2" r="1.1"/><circle cx="110.1" cy="282.5" r="1.1"/><circle cx="124.4" cy="360.7" r="1.1"/><circle cx="119.0" cy="357.8" r="1.1"/><circle cx="114.0" cy="313.4" r="1.1"/><circle cx="118.3" cy="248.7" r="1.1"/><circle cx="103.7" cy="353.7" r="1.1"/><circle cx="114.1" cy="356.7" r="1.1"/><circle cx="117.9" cy="274.6" r="1.1"/><circle cx="112.2" cy="307.1" r="1.1"/><circle cx="132.0" cy="321.0" r="1.1"/><circle cx="119.3" cy="386.8" r="1.1"/><circle cx="113.3" cy="317.5" r="1.1"/><circle cx="114.8" cy="313.5" r="1.1"/><circle cx="110.0" cy="296.9" r="1.1"/><circle cx="107.1" cy="353.1" r="1.1"/><circle cx="121.2" cy="308.5" r="1.1"/><circle cx="132.8" cy="351.3" r="1.1"/><circle cx="123.7" cy="317.5" r="1.1"/><circle cx="112.3" cy="318.3" r="1.1"/><circle cx="111.0" cy="358.9" r="1.1"/><circle cx="114.6" cy="264.0" r="1.1"/><circle cx="110.1" cy="317.5" r="1.1"/><circle cx="119.8" cy="353.7" r="1.1"/><circle cx="116.9" cy="369.3" r="1.1"/><circle cx="99.8" cy="336.7" r="1.1"/><circle cx="110.4" cy="279.0" r="1.1"/><circle cx="107.6" cy="359.3" r="1.1"/><circle cx="109.7" cy="352.7" r="1.1"/><circle cx="116.0" cy="357.2" r="1.1"/><circle cx="110.1" cy="362.5" r="1.1"/><circle cx="125.4" cy="272.0" r="1.1"/><circle cx="106.8" cy="320.7" r="1.1"/><circle cx="121.6" cy="349.4" r="1.1"/><circle cx="117.0" cy="353.5" r="1.1"/><circle cx="112.1" cy="350.1" r="1.1"/><circle cx="123.7" cy="347.2" r="1.1"/><circle cx="118.7" cy="349.4" r="1.1"/><circle cx="124.2" cy="251.6" r="1.1"/><circle cx="125.1" cy="240.9" r="1.1"/><circle cx="119.6" cy="306.7" r="1.1"/><circle cx="128.2" cy="310.3" r="1.1"/><circle cx="129.6" cy="299.4" r="1.1"/><circle cx="103.0" cy="324.9" r="1.1"/><circle cx="131.7" cy="323.6" r="1.1"/><circle cx="117.4" cy="291.4" r="1.1"/><circle cx="124.1" cy="243.1" r="1.1"/><circle cx="111.7" cy="307.3" r="1.1"/><circle cx="112.2" cy="350.2" r="1.1"/><circle cx="110.4" cy="348.5" r="1.1"/><circle cx="122.8" cy="305.0" r="1.1"/><circle cx="105.2" cy="349.3" r="1.1"/><circle cx="111.3" cy="311.5" r="1.1"/><circle cx="108.8" cy="347.6" r="1.1"/><circle cx="121.0" cy="361.3" r="1.1"/><circle cx="128.7" cy="349.5" r="1.1"/><circle cx="118.5" cy="354.8" r="1.1"/><circle cx="117.8" cy="352.6" r="1.1"/><circle cx="125.5" cy="317.5" r="1.1"/><circle cx="109.4" cy="311.8" r="1.1"/><circle cx="116.4" cy="252.8" r="1.1"/><circle cx="116.0" cy="355.5" r="1.1"/><circle cx="123.6" cy="352.4" r="1.1"/><circle cx="106.1" cy="321.8" r="1.1"/><circle cx="113.0" cy="365.9" r="1.1"/><circle cx="113.7" cy="317.8" r="1.1"/><circle cx="103.7" cy="335.9" r="1.1"/><circle cx="138.8" cy="250.5" r="1.1"/><circle cx="155.6" cy="248.4" r="1.1"/><circle cx="145.6" cy="263.8" r="1.1"/><circle cx="146.4" cy="342.3" r="1.1"/><circle cx="145.6" cy="256.9" r="1.1"/><circle cx="151.6" cy="316.2" r="1.1"/><circle cx="131.8" cy="241.0" r="1.1"/><circle cx="148.8" cy="275.6" r="1.1"/><circle cx="142.5" cy="292.2" r="1.1"/><circle cx="143.0" cy="329.2" r="1.1"/><circle cx="133.4" cy="193.0" r="1.1"/><circle cx="149.6" cy="293.5" r="1.1"/><circle cx="140.0" cy="278.7" r="1.1"/><circle cx="156.3" cy="300.2" r="1.1"/><circle cx="150.2" cy="286.1" r="1.1"/><circle cx="162.0" cy="206.6" r="1.1"/><circle cx="133.0" cy="260.0" r="1.1"/><circle cx="141.3" cy="285.3" r="1.1"/><circle cx="159.4" cy="226.5" r="1.1"/><circle cx="150.9" cy="299.4" r="1.1"/><circle cx="155.2" cy="257.9" r="1.1"/><circle cx="135.1" cy="235.9" r="1.1"/><circle cx="142.3" cy="353.4" r="1.1"/><circle cx="140.1" cy="186.1" r="1.1"/><circle cx="156.4" cy="352.1" r="1.1"/><circle cx="162.4" cy="265.9" r="1.1"/><circle cx="134.6" cy="189.6" r="1.1"/><circle cx="159.2" cy="268.0" r="1.1"/><circle cx="145.5" cy="174.9" r="1.1"/><circle cx="158.6" cy="237.4" r="1.1"/><circle cx="152.7" cy="275.2" r="1.1"/><circle cx="145.2" cy="317.1" r="1.1"/><circle cx="135.7" cy="196.2" r="1.1"/><circle cx="135.0" cy="186.6" r="1.1"/><circle cx="146.8" cy="340.0" r="1.1"/><circle cx="143.6" cy="185.2" r="1.1"/><circle cx="148.9" cy="176.4" r="1.1"/><circle cx="155.1" cy="178.6" r="1.1"/><circle cx="150.6" cy="290.6" r="1.1"/><circle cx="145.0" cy="321.4" r="1.1"/><circle cx="143.4" cy="175.6" r="1.1"/><circle cx="152.8" cy="264.1" r="1.1"/><circle cx="146.0" cy="178.5" r="1.1"/><circle cx="145.5" cy="172.4" r="1.1"/><circle cx="157.6" cy="255.0" r="1.1"/><circle cx="150.3" cy="270.1" r="1.1"/><circle cx="140.3" cy="283.6" r="1.1"/><circle cx="155.8" cy="287.4" r="1.1"/><circle cx="141.4" cy="169.8" r="1.1"/><circle cx="141.0" cy="314.9" r="1.1"/><circle cx="141.5" cy="184.3" r="1.1"/><circle cx="149.1" cy="267.4" r="1.1"/><circle cx="141.7" cy="329.0" r="1.1"/><circle cx="146.1" cy="252.7" r="1.1"/><circle cx="137.5" cy="286.4" r="1.1"/><circle cx="143.7" cy="273.5" r="1.1"/><circle cx="142.1" cy="269.0" r="1.1"/><circle cx="142.8" cy="288.3" r="1.1"/><circle cx="152.0" cy="169.0" r="1.1"/><circle cx="146.0" cy="179.1" r="1.1"/><circle cx="150.6" cy="309.5" r="1.1"/><circle cx="160.6" cy="221.6" r="1.1"/><circle cx="137.6" cy="265.7" r="1.1"/><circle cx="157.4" cy="160.7" r="1.1"/><circle cx="151.2" cy="177.9" r="1.1"/><circle cx="154.0" cy="171.8" r="1.1"/><circle cx="171.8" cy="288.1" r="1.1"/><circle cx="184.5" cy="189.7" r="1.1"/><circle cx="167.0" cy="305.2" r="1.1"/><circle cx="179.5" cy="259.9" r="1.1"/><circle cx="184.9" cy="178.0" r="1.1"/><circle cx="180.7" cy="276.2" r="1.1"/><circle cx="178.7" cy="291.1" r="1.1"/><circle cx="180.3" cy="187.5" r="1.1"/><circle cx="167.0" cy="191.1" r="1.1"/><circle cx="175.4" cy="255.7" r="1.1"/><circle cx="178.1" cy="321.0" r="1.1"/><circle cx="167.5" cy="317.5" r="1.1"/><circle cx="169.7" cy="256.6" r="1.1"/><circle cx="178.3" cy="294.7" r="1.1"/><circle cx="182.0" cy="248.8" r="1.1"/><circle cx="172.4" cy="311.9" r="1.1"/><circle cx="164.8" cy="274.5" r="1.1"/><circle cx="170.6" cy="173.2" r="1.1"/><circle cx="181.1" cy="351.5" r="1.1"/><circle cx="184.4" cy="166.0" r="1.1"/><circle cx="178.7" cy="274.5" r="1.1"/><circle cx="183.7" cy="174.7" r="1.1"/><circle cx="172.5" cy="304.7" r="1.1"/><circle cx="171.8" cy="180.8" r="1.1"/><circle cx="167.2" cy="174.0" r="1.1"/><circle cx="174.5" cy="273.1" r="1.1"/><circle cx="174.6" cy="189.4" r="1.1"/><circle cx="182.4" cy="178.8" r="1.1"/><circle cx="178.5" cy="328.1" r="1.1"/><circle cx="162.7" cy="236.2" r="1.1"/><circle cx="180.8" cy="265.3" r="1.1"/><circle cx="181.2" cy="250.7" r="1.1"/><circle cx="183.3" cy="252.9" r="1.1"/><circle cx="178.9" cy="251.4" r="1.1"/><circle cx="169.8" cy="174.9" r="1.1"/><circle cx="168.1" cy="313.8" r="1.1"/><circle cx="164.6" cy="223.2" r="1.1"/><circle cx="184.3" cy="190.4" r="1.1"/><circle cx="171.3" cy="269.6" r="1.1"/><circle cx="162.2" cy="266.6" r="1.1"/><circle cx="182.0" cy="168.8" r="1.1"/><circle cx="168.1" cy="329.6" r="1.1"/><circle cx="177.1" cy="268.0" r="1.1"/><circle cx="181.5" cy="278.0" r="1.1"/><circle cx="185.5" cy="338.2" r="1.1"/><circle cx="182.6" cy="253.4" r="1.1"/><circle cx="170.5" cy="191.6" r="1.1"/><circle cx="171.9" cy="310.1" r="1.1"/><circle cx="181.5" cy="183.5" r="1.1"/><circle cx="167.1" cy="177.9" r="1.1"/><circle cx="166.0" cy="286.6" r="1.1"/><circle cx="166.6" cy="185.7" r="1.1"/><circle cx="167.7" cy="298.3" r="1.1"/><circle cx="185.0" cy="188.1" r="1.1"/><circle cx="166.7" cy="186.5" r="1.1"/><circle cx="181.1" cy="174.7" r="1.1"/><circle cx="173.5" cy="268.4" r="1.1"/><circle cx="185.6" cy="192.1" r="1.1"/><circle cx="165.9" cy="191.5" r="1.1"/><circle cx="188.4" cy="217.9" r="1.1"/><circle cx="173.0" cy="251.3" r="1.1"/><circle cx="193.2" cy="228.2" r="1.1"/><circle cx="210.4" cy="279.4" r="1.1"/><circle cx="209.0" cy="344.0" r="1.1"/><circle cx="199.9" cy="326.0" r="1.1"/><circle cx="215.1" cy="132.5" r="1.1"/><circle cx="203.3" cy="147.5" r="1.1"/><circle cx="214.6" cy="311.7" r="1.1"/><circle cx="210.0" cy="320.4" r="1.1"/><circle cx="214.9" cy="265.3" r="1.1"/><circle cx="213.5" cy="142.4" r="1.1"/><circle cx="218.9" cy="158.9" r="1.1"/><circle cx="198.0" cy="273.8" r="1.1"/><circle cx="207.4" cy="258.3" r="1.1"/><circle cx="191.5" cy="274.1" r="1.1"/><circle cx="209.1" cy="153.9" r="1.1"/><circle cx="210.9" cy="341.8" r="1.1"/><circle cx="197.4" cy="136.1" r="1.1"/><circle cx="202.2" cy="268.0" r="1.1"/><circle cx="210.4" cy="275.0" r="1.1"/><circle cx="214.5" cy="298.1" r="1.1"/><circle cx="215.6" cy="154.0" r="1.1"/><circle cx="199.7" cy="149.8" r="1.1"/><circle cx="198.9" cy="280.1" r="1.1"/><circle cx="201.8" cy="297.0" r="1.1"/><circle cx="209.2" cy="283.6" r="1.1"/><circle cx="206.2" cy="154.8" r="1.1"/><circle cx="210.7" cy="281.7" r="1.1"/><circle cx="198.4" cy="185.3" r="1.1"/><circle cx="196.7" cy="163.0" r="1.1"/><circle cx="197.4" cy="265.8" r="1.1"/><circle cx="194.1" cy="236.8" r="1.1"/><circle cx="194.2" cy="172.1" r="1.1"/><circle cx="206.6" cy="254.5" r="1.1"/><circle cx="211.8" cy="263.9" r="1.1"/><circle cx="210.3" cy="156.5" r="1.1"/><circle cx="201.7" cy="171.3" r="1.1"/><circle cx="211.2" cy="265.8" r="1.1"/><circle cx="221.4" cy="179.5" r="1.1"/><circle cx="209.1" cy="269.0" r="1.1"/><circle cx="209.7" cy="259.3" r="1.1"/><circle cx="218.7" cy="202.5" r="1.1"/><circle cx="216.2" cy="274.8" r="1.1"/><circle cx="213.5" cy="163.1" r="1.1"/><circle cx="199.1" cy="252.2" r="1.1"/><circle cx="196.1" cy="269.8" r="1.1"/><circle cx="200.2" cy="309.3" r="1.1"/><circle cx="217.8" cy="296.4" r="1.1"/><circle cx="210.4" cy="149.8" r="1.1"/><circle cx="207.1" cy="272.9" r="1.1"/><circle cx="198.8" cy="308.3" r="1.1"/><circle cx="220.1" cy="231.7" r="1.1"/><circle cx="214.8" cy="176.2" r="1.1"/><circle cx="210.3" cy="141.1" r="1.1"/><circle cx="217.2" cy="265.0" r="1.1"/><circle cx="207.0" cy="178.5" r="1.1"/><circle cx="197.0" cy="288.9" r="1.1"/><circle cx="211.9" cy="300.4" r="1.1"/><circle cx="210.9" cy="267.3" r="1.1"/><circle cx="212.0" cy="256.4" r="1.1"/><circle cx="217.7" cy="273.4" r="1.1"/><circle cx="194.0" cy="259.9" r="1.1"/><circle cx="200.9" cy="341.3" r="1.1"/><circle cx="235.9" cy="171.1" r="1.1"/><circle cx="223.6" cy="148.4" r="1.1"/><circle cx="240.6" cy="264.3" r="1.1"/><circle cx="250.2" cy="230.1" r="1.1"/><circle cx="222.2" cy="222.4" r="1.1"/><circle cx="248.7" cy="253.3" r="1.1"/><circle cx="228.2" cy="171.7" r="1.1"/><circle cx="237.3" cy="138.8" r="1.1"/><circle cx="229.0" cy="153.7" r="1.1"/><circle cx="234.4" cy="304.8" r="1.1"/><circle cx="222.9" cy="239.2" r="1.1"/><circle cx="248.1" cy="253.2" r="1.1"/><circle cx="220.7" cy="276.9" r="1.1"/><circle cx="231.5" cy="320.8" r="1.1"/><circle cx="234.5" cy="267.6" r="1.1"/><circle cx="235.9" cy="159.5" r="1.1"/><circle cx="244.0" cy="155.8" r="1.1"/><circle cx="234.5" cy="271.5" r="1.1"/><circle cx="225.9" cy="256.0" r="1.1"/><circle cx="231.1" cy="148.1" r="1.1"/><circle cx="234.8" cy="259.2" r="1.1"/><circle cx="246.6" cy="281.1" r="1.1"/><circle cx="221.9" cy="203.5" r="1.1"/><circle cx="225.3" cy="266.9" r="1.1"/><circle cx="232.2" cy="181.7" r="1.1"/><circle cx="223.3" cy="277.1" r="1.1"/><circle cx="245.0" cy="176.5" r="1.1"/><circle cx="240.8" cy="151.6" r="1.1"/><circle cx="238.3" cy="306.1" r="1.1"/><circle cx="250.2" cy="333.2" r="1.1"/><circle cx="235.4" cy="278.9" r="1.1"/><circle cx="227.0" cy="268.8" r="1.1"/><circle cx="229.7" cy="155.4" r="1.1"/><circle cx="223.9" cy="247.1" r="1.1"/><circle cx="248.2" cy="199.0" r="1.1"/><circle cx="224.0" cy="245.2" r="1.1"/><circle cx="223.8" cy="205.7" r="1.1"/><circle cx="223.9" cy="272.4" r="1.1"/><circle cx="236.2" cy="187.7" r="1.1"/><circle cx="234.3" cy="167.7" r="1.1"/><circle cx="244.5" cy="152.2" r="1.1"/><circle cx="239.8" cy="171.5" r="1.1"/><circle cx="227.5" cy="143.0" r="1.1"/><circle cx="225.1" cy="174.7" r="1.1"/><circle cx="238.4" cy="157.8" r="1.1"/><circle cx="244.5" cy="175.3" r="1.1"/><circle cx="244.1" cy="257.9" r="1.1"/><circle cx="226.9" cy="260.5" r="1.1"/><circle cx="231.8" cy="269.3" r="1.1"/><circle cx="242.8" cy="279.6" r="1.1"/><circle cx="237.6" cy="184.0" r="1.1"/><circle cx="226.3" cy="143.0" r="1.1"/><circle cx="239.3" cy="293.1" r="1.1"/><circle cx="249.7" cy="207.1" r="1.1"/><circle cx="233.2" cy="290.7" r="1.1"/><circle cx="224.4" cy="181.4" r="1.1"/><circle cx="227.1" cy="256.5" r="1.1"/><circle cx="224.8" cy="293.2" r="1.1"/><circle cx="236.7" cy="190.0" r="1.1"/><circle cx="242.9" cy="182.7" r="1.1"/><circle cx="239.4" cy="288.5" r="1.1"/><circle cx="242.3" cy="131.2" r="1.1"/><circle cx="232.0" cy="304.6" r="1.1"/><circle cx="222.2" cy="247.5" r="1.1"/><circle cx="229.3" cy="138.2" r="1.1"/><circle cx="233.0" cy="298.3" r="1.1"/><circle cx="241.3" cy="276.7" r="1.1"/><circle cx="231.2" cy="188.7" r="1.1"/><circle cx="231.4" cy="277.8" r="1.1"/><circle cx="218.8" cy="231.6" r="1.1"/><circle cx="235.1" cy="128.9" r="1.1"/><circle cx="246.6" cy="151.7" r="1.1"/><circle cx="225.1" cy="145.1" r="1.1"/><circle cx="223.5" cy="297.8" r="1.1"/><circle cx="242.8" cy="188.2" r="1.1"/><circle cx="228.2" cy="147.6" r="1.1"/><circle cx="246.0" cy="184.0" r="1.1"/><circle cx="229.3" cy="263.1" r="1.1"/><circle cx="236.3" cy="152.8" r="1.1"/><circle cx="271.4" cy="409.5" r="1.1"/><circle cx="252.2" cy="195.1" r="1.1"/><circle cx="274.7" cy="352.7" r="1.1"/><circle cx="275.7" cy="228.8" r="1.1"/><circle cx="273.7" cy="351.6" r="1.1"/><circle cx="257.1" cy="313.3" r="1.1"/><circle cx="264.2" cy="326.3" r="1.1"/><circle cx="266.8" cy="306.9" r="1.1"/><circle cx="274.3" cy="313.6" r="1.1"/><circle cx="267.8" cy="178.6" r="1.1"/><circle cx="263.6" cy="365.2" r="1.1"/><circle cx="253.8" cy="205.6" r="1.1"/><circle cx="279.3" cy="208.3" r="1.1"/><circle cx="272.6" cy="356.5" r="1.1"/><circle cx="253.4" cy="212.9" r="1.1"/><circle cx="270.4" cy="178.6" r="1.1"/><circle cx="257.9" cy="180.6" r="1.1"/><circle cx="267.0" cy="313.1" r="1.1"/><circle cx="263.1" cy="166.5" r="1.1"/><circle cx="275.8" cy="234.3" r="1.1"/><circle cx="247.6" cy="242.0" r="1.1"/><circle cx="254.1" cy="207.1" r="1.1"/><circle cx="266.0" cy="375.5" r="1.1"/><circle cx="267.1" cy="326.3" r="1.1"/><circle cx="255.9" cy="181.6" r="1.1"/><circle cx="258.2" cy="404.6" r="1.1"/><circle cx="251.9" cy="411.2" r="1.1"/><circle cx="276.9" cy="254.3" r="1.1"/><circle cx="282.4" cy="276.9" r="1.1"/><circle cx="270.1" cy="192.6" r="1.1"/><circle cx="263.1" cy="358.2" r="1.1"/><circle cx="257.9" cy="197.3" r="1.1"/><circle cx="270.7" cy="409.9" r="1.1"/><circle cx="272.3" cy="309.4" r="1.1"/><circle cx="258.1" cy="207.9" r="1.1"/><circle cx="262.3" cy="202.0" r="1.1"/><circle cx="255.6" cy="338.9" r="1.1"/><circle cx="268.9" cy="368.7" r="1.1"/><circle cx="269.8" cy="385.6" r="1.1"/><circle cx="277.5" cy="271.7" r="1.1"/><circle cx="263.8" cy="151.2" r="1.1"/><circle cx="276.1" cy="311.9" r="1.1"/><circle cx="256.6" cy="164.5" r="1.1"/><circle cx="267.5" cy="410.8" r="1.1"/><circle cx="253.5" cy="252.2" r="1.1"/><circle cx="249.2" cy="234.8" r="1.1"/><circle cx="258.7" cy="170.4" r="1.1"/><circle cx="271.5" cy="181.2" r="1.1"/><circle cx="259.6" cy="185.7" r="1.1"/><circle cx="255.0" cy="330.2" r="1.1"/><circle cx="255.1" cy="407.5" r="1.1"/><circle cx="303.3" cy="178.5" r="1.1"/><circle cx="285.3" cy="325.8" r="1.1"/><circle cx="297.2" cy="165.7" r="1.1"/><circle cx="307.0" cy="367.7" r="1.1"/><circle cx="286.8" cy="384.8" r="1.1"/><circle cx="283.4" cy="400.8" r="1.1"/><circle cx="301.7" cy="370.7" r="1.1"/><circle cx="287.5" cy="397.1" r="1.1"/><circle cx="292.8" cy="329.9" r="1.1"/><circle cx="295.3" cy="341.2" r="1.1"/><circle cx="301.2" cy="403.4" r="1.1"/><circle cx="301.8" cy="192.1" r="1.1"/><circle cx="290.1" cy="402.3" r="1.1"/><circle cx="290.6" cy="310.8" r="1.1"/><circle cx="282.8" cy="157.0" r="1.1"/><circle cx="294.5" cy="308.8" r="1.1"/><circle cx="307.8" cy="211.8" r="1.1"/><circle cx="295.5" cy="400.9" r="1.1"/><circle cx="305.3" cy="397.3" r="1.1"/><circle cx="295.3" cy="312.1" r="1.1"/><circle cx="290.6" cy="207.7" r="1.1"/><circle cx="293.2" cy="329.8" r="1.1"/><circle cx="305.1" cy="222.0" r="1.1"/><circle cx="287.8" cy="320.4" r="1.1"/><circle cx="283.9" cy="320.8" r="1.1"/><circle cx="285.4" cy="396.3" r="1.1"/><circle cx="283.0" cy="315.8" r="1.1"/><circle cx="282.4" cy="264.6" r="1.1"/><circle cx="283.5" cy="211.2" r="1.1"/><circle cx="299.3" cy="397.9" r="1.1"/><circle cx="287.6" cy="388.8" r="1.1"/><circle cx="284.9" cy="205.7" r="1.1"/><circle cx="281.3" cy="252.2" r="1.1"/><circle cx="282.1" cy="216.7" r="1.1"/><circle cx="288.8" cy="309.6" r="1.1"/><circle cx="287.2" cy="347.5" r="1.1"/><circle cx="285.8" cy="316.5" r="1.1"/><circle cx="300.1" cy="381.1" r="1.1"/><circle cx="303.6" cy="204.3" r="1.1"/><circle cx="311.0" cy="257.0" r="1.1"/><circle cx="304.8" cy="307.9" r="1.1"/><circle cx="299.3" cy="319.0" r="1.1"/><circle cx="299.7" cy="180.6" r="1.1"/><circle cx="302.9" cy="305.9" r="1.1"/><circle cx="338.1" cy="372.6" r="1.1"/><circle cx="328.5" cy="359.8" r="1.1"/><circle cx="312.1" cy="380.2" r="1.1"/><circle cx="334.9" cy="377.9" r="1.1"/><circle cx="337.7" cy="365.0" r="1.1"/><circle cx="327.8" cy="355.7" r="1.1"/><circle cx="318.0" cy="385.3" r="1.1"/><circle cx="322.0" cy="389.3" r="1.1"/><circle cx="308.7" cy="368.1" r="1.1"/><circle cx="350.4" cy="323.7" r="1.1"/><circle cx="351.1" cy="366.8" r="1.1"/><circle cx="342.9" cy="381.0" r="1.1"/><circle cx="360.7" cy="332.3" r="1.1"/><circle cx="362.2" cy="393.4" r="1.1"/><circle cx="348.8" cy="388.4" r="1.1"/><circle cx="351.6" cy="390.3" r="1.1"/><circle cx="367.2" cy="347.6" r="1.1"/><circle cx="351.9" cy="352.1" r="1.1"/><circle cx="385.1" cy="370.8" r="1.1"/><circle cx="388.8" cy="392.7" r="1.1"/><circle cx="367.9" cy="382.4" r="1.1"/><circle cx="384.1" cy="390.8" r="1.1"/><circle cx="381.0" cy="392.6" r="1.1"/><circle cx="370.0" cy="369.8" r="1.1"/><circle cx="370.8" cy="387.7" r="1.1"/><circle cx="376.1" cy="390.0" r="1.1"/><circle cx="375.1" cy="390.4" r="1.1"/><circle cx="416.0" cy="369.6" r="1.1"/><circle cx="408.0" cy="365.2" r="1.1"/><circle cx="406.5" cy="373.6" r="1.1"/><circle cx="422.2" cy="379.5" r="1.1"/><circle cx="401.1" cy="377.2" r="1.1"/><circle cx="412.1" cy="387.9" r="1.1"/><circle cx="417.8" cy="387.5" r="1.1"/><circle cx="401.7" cy="375.4" r="1.1"/><circle cx="411.9" cy="372.1" r="1.1"/><circle cx="446.5" cy="393.7" r="1.1"/><circle cx="438.3" cy="387.2" r="1.1"/><circle cx="444.9" cy="354.3" r="1.1"/><circle cx="445.2" cy="367.9" r="1.1"/><circle cx="440.7" cy="383.6" r="1.1"/><circle cx="442.1" cy="355.0" r="1.1"/><circle cx="436.6" cy="376.6" r="1.1"/><circle cx="457.5" cy="379.3" r="1.1"/><circle cx="430.3" cy="338.6" r="1.1"/><circle cx="460.6" cy="383.9" r="1.1"/><circle cx="468.2" cy="370.1" r="1.1"/><circle cx="458.5" cy="351.9" r="1.1"/><circle cx="475.5" cy="383.0" r="1.1"/><circle cx="473.2" cy="377.7" r="1.1"/><circle cx="471.1" cy="376.1" r="1.1"/><circle cx="473.4" cy="381.2" r="1.1"/><circle cx="473.6" cy="343.4" r="1.1"/><circle cx="461.5" cy="388.2" r="1.1"/><circle cx="502.2" cy="385.3" r="1.1"/><circle cx="489.7" cy="369.0" r="1.1"/><circle cx="488.4" cy="385.3" r="1.1"/><circle cx="494.5" cy="385.4" r="1.1"/><circle cx="496.9" cy="356.3" r="1.1"/><circle cx="486.5" cy="377.1" r="1.1"/><circle cx="502.6" cy="392.2" r="1.1"/><circle cx="500.2" cy="384.1" r="1.1"/><circle cx="495.8" cy="392.5" r="1.1"/><circle cx="525.8" cy="382.9" r="1.1"/><circle cx="525.2" cy="372.9" r="1.1"/><circle cx="532.3" cy="384.6" r="1.1"/><circle cx="515.2" cy="353.1" r="1.1"/><circle cx="522.4" cy="358.0" r="1.1"/><circle cx="526.7" cy="381.3" r="1.1"/><circle cx="528.6" cy="361.1" r="1.1"/><circle cx="533.6" cy="391.9" r="1.1"/><circle cx="523.6" cy="392.7" r="1.1"/><circle cx="565.4" cy="378.4" r="1.1"/><circle cx="560.0" cy="334.3" r="1.1"/><circle cx="562.1" cy="336.8" r="1.1"/><circle cx="560.8" cy="384.5" r="1.1"/><circle cx="545.3" cy="390.4" r="1.1"/><circle cx="563.2" cy="349.1" r="1.1"/><circle cx="565.4" cy="324.7" r="1.1"/><circle cx="547.7" cy="393.9" r="1.1"/><circle cx="559.4" cy="388.4" r="1.1"/><circle cx="603.2" cy="352.3" r="1.1"/><circle cx="573.9" cy="384.9" r="1.1"/><circle cx="595.4" cy="386.8" r="1.1"/><circle cx="589.1" cy="391.5" r="1.1"/><circle cx="593.6" cy="379.7" r="1.1"/><circle cx="592.6" cy="379.0" r="1.1"/><circle cx="578.6" cy="372.2" r="1.1"/><circle cx="587.4" cy="369.2" r="1.1"/><circle cx="583.9" cy="369.7" r="1.1"/><circle cx="611.2" cy="377.2" r="1.1"/><circle cx="610.3" cy="391.4" r="1.1"/><circle cx="613.9" cy="355.7" r="1.1"/><circle cx="615.2" cy="362.6" r="1.1"/><circle cx="622.0" cy="351.7" r="1.1"/><circle cx="617.9" cy="392.0" r="1.1"/><circle cx="622.5" cy="378.1" r="1.1"/><circle cx="607.3" cy="378.9" r="1.1"/><circle cx="616.5" cy="332.2" r="1.1"/><circle cx="636.5" cy="381.9" r="1.1"/><circle cx="637.2" cy="383.1" r="1.1"/><circle cx="636.3" cy="359.3" r="1.1"/><circle cx="646.9" cy="376.0" r="1.1"/><circle cx="637.8" cy="361.5" r="1.1"/><circle cx="638.8" cy="386.3" r="1.1"/><circle cx="656.0" cy="389.9" r="1.1"/><circle cx="641.6" cy="336.5" r="1.1"/><circle cx="634.7" cy="375.0" r="1.1"/><circle cx="675.4" cy="375.8" r="1.1"/><circle cx="688.0" cy="371.4" r="1.1"/><circle cx="673.1" cy="328.9" r="1.1"/><circle cx="664.8" cy="378.1" r="1.1"/><circle cx="673.8" cy="361.0" r="1.1"/><circle cx="686.4" cy="344.7" r="1.1"/><circle cx="685.2" cy="368.1" r="1.1"/><circle cx="671.9" cy="362.7" r="1.1"/><circle cx="661.6" cy="367.8" r="1.1"/><circle cx="705.9" cy="367.6" r="1.1"/><circle cx="717.4" cy="375.7" r="1.1"/><circle cx="697.7" cy="389.8" r="1.1"/><circle cx="707.1" cy="341.2" r="1.1"/><circle cx="708.1" cy="333.6" r="1.1"/><circle cx="711.7" cy="375.6" r="1.1"/><circle cx="703.9" cy="375.8" r="1.1"/><circle cx="705.1" cy="343.6" r="1.1"/><circle cx="701.2" cy="379.7" r="1.1"/><circle cx="747.2" cy="343.3" r="1.1"/><circle cx="718.3" cy="378.9" r="1.1"/><circle cx="726.0" cy="373.5" r="1.1"/><circle cx="734.0" cy="388.9" r="1.1"/><circle cx="734.4" cy="366.3" r="1.1"/><circle cx="733.3" cy="393.3" r="1.1"/><circle cx="748.0" cy="388.4" r="1.1"/><circle cx="718.3" cy="368.4" r="1.1"/><circle cx="725.3" cy="393.6" r="1.1"/><circle cx="753.3" cy="392.9" r="1.1"/><circle cx="772.0" cy="342.0" r="1.1"/><circle cx="769.2" cy="393.5" r="1.1"/><circle cx="764.5" cy="367.9" r="1.1"/><circle cx="774.3" cy="392.6" r="1.1"/><circle cx="749.2" cy="392.2" r="1.1"/><circle cx="760.1" cy="367.1" r="1.1"/><circle cx="773.9" cy="392.2" r="1.1"/><circle cx="766.3" cy="387.8" r="1.1"/><circle cx="793.4" cy="339.8" r="1.1"/><circle cx="789.1" cy="359.1" r="1.1"/><circle cx="794.3" cy="390.2" r="1.1"/><circle cx="794.1" cy="341.1" r="1.1"/><circle cx="800.1" cy="372.7" r="1.1"/><circle cx="782.0" cy="366.2" r="1.1"/><circle cx="804.4" cy="364.5" r="1.1"/><circle cx="788.4" cy="357.0" r="1.1"/><circle cx="786.2" cy="393.6" r="1.1"/><circle cx="823.7" cy="371.6" r="1.1"/><circle cx="823.3" cy="369.6" r="1.1"/><circle cx="826.8" cy="382.9" r="1.1"/><circle cx="834.3" cy="338.2" r="1.1"/><circle cx="804.5" cy="375.4" r="1.1"/><circle cx="813.4" cy="383.0" r="1.1"/><circle cx="823.5" cy="374.7" r="1.1"/><circle cx="828.7" cy="382.6" r="1.1"/><circle cx="818.4" cy="387.8" r="1.1"/><circle cx="850.0" cy="316.5" r="1.1"/><circle cx="850.4" cy="386.7" r="1.1"/><circle cx="846.7" cy="387.9" r="1.1"/><circle cx="840.6" cy="308.9" r="1.1"/><circle cx="859.7" cy="384.0" r="1.1"/><circle cx="859.4" cy="393.5" r="1.1"/><circle cx="865.7" cy="392.5" r="1.1"/><circle cx="848.4" cy="349.9" r="1.1"/><circle cx="845.0" cy="393.5" r="1.1"/><circle cx="868.3" cy="371.9" r="1.1"/><circle cx="888.9" cy="374.0" r="1.1"/><circle cx="885.5" cy="384.6" r="1.1"/><circle cx="868.4" cy="393.2" r="1.1"/><circle cx="879.4" cy="336.8" r="1.1"/><circle cx="878.7" cy="339.3" r="1.1"/><circle cx="871.3" cy="311.9" r="1.1"/><circle cx="873.9" cy="347.5" r="1.1"/><circle cx="866.3" cy="351.1" r="1.1"/><circle cx="908.5" cy="362.6" r="1.1"/><circle cx="908.3" cy="346.4" r="1.1"/><circle cx="898.7" cy="377.7" r="1.1"/><circle cx="913.6" cy="387.9" r="1.1"/><circle cx="909.6" cy="372.1" r="1.1"/><circle cx="898.6" cy="342.3" r="1.1"/><circle cx="898.9" cy="389.3" r="1.1"/><circle cx="905.3" cy="349.7" r="1.1"/><circle cx="912.8" cy="322.1" r="1.1"/><circle cx="929.7" cy="372.8" r="1.1"/><circle cx="928.0" cy="370.1" r="1.1"/><circle cx="924.6" cy="367.8" r="1.1"/><circle cx="936.7" cy="372.7" r="1.1"/><circle cx="930.2" cy="322.5" r="1.1"/><circle cx="950.3" cy="356.7" r="1.1"/><circle cx="933.2" cy="383.3" r="1.1"/><circle cx="945.5" cy="316.4" r="1.1"/><circle cx="926.5" cy="363.0" r="1.1"/><circle cx="957.3" cy="383.2" r="1.1"/><circle cx="953.4" cy="391.7" r="1.1"/><circle cx="977.8" cy="371.1" r="1.1"/><circle cx="968.1" cy="368.7" r="1.1"/><circle cx="972.8" cy="388.6" r="1.1"/><circle cx="971.5" cy="391.4" r="1.1"/><circle cx="980.1" cy="364.5" r="1.1"/><circle cx="969.8" cy="375.1" r="1.1"/><circle cx="962.1" cy="385.4" r="1.1"/><circle cx="999.9" cy="362.8" r="1.1"/><circle cx="999.6" cy="368.1" r="1.1"/><circle cx="999.0" cy="378.2" r="1.1"/><circle cx="1008.9" cy="369.4" r="1.1"/><circle cx="981.6" cy="375.9" r="1.1"/><circle cx="1010.6" cy="393.4" r="1.1"/><circle cx="998.2" cy="390.0" r="1.1"/><circle cx="1003.1" cy="393.9" r="1.1"/><circle cx="992.8" cy="374.1" r="1.1"/><circle cx="1031.5" cy="348.8" r="1.1"/><circle cx="1024.2" cy="382.7" r="1.1"/><circle cx="1033.6" cy="383.7" r="1.1"/><circle cx="1018.7" cy="379.7" r="1.1"/><circle cx="1022.9" cy="387.8" r="1.1"/><circle cx="1024.9" cy="368.8" r="1.1"/><circle cx="1042.6" cy="392.5" r="1.1"/><circle cx="1014.2" cy="383.8" r="1.1"/><circle cx="1025.4" cy="385.3" r="1.1"/><circle cx="1057.7" cy="379.9" r="1.1"/><circle cx="1054.6" cy="392.0" r="1.1"/><circle cx="1067.4" cy="388.6" r="1.1"/><circle cx="1048.2" cy="388.7" r="1.1"/><circle cx="1046.9" cy="390.3" r="1.1"/><circle cx="1051.4" cy="352.1" r="1.1"/><circle cx="1067.4" cy="382.5" r="1.1"/><circle cx="1056.8" cy="381.0" r="1.1"/><circle cx="1047.4" cy="360.1" r="1.1"/><circle cx="1089.4" cy="383.0" r="1.1"/><circle cx="1084.1" cy="367.8" r="1.1"/><circle cx="1089.7" cy="384.2" r="1.1"/><circle cx="1090.9" cy="382.1" r="1.1"/><circle cx="1085.2" cy="358.4" r="1.1"/><circle cx="1074.3" cy="393.9" r="1.1"/><circle cx="1097.7" cy="369.5" r="1.1"/><circle cx="1089.3" cy="389.9" r="1.1"/><circle cx="1091.6" cy="388.5" r="1.1"/><circle cx="1116.6" cy="381.0" r="1.1"/><circle cx="1118.6" cy="391.5" r="1.1"/><circle cx="1120.3" cy="358.1" r="1.1"/><circle cx="1124.4" cy="386.9" r="1.1"/><circle cx="1098.9" cy="392.1" r="1.1"/><circle cx="1112.6" cy="393.5" r="1.1"/><circle cx="1112.5" cy="364.9" r="1.1"/><circle cx="1121.8" cy="371.0" r="1.1"/><circle cx="1130.4" cy="390.6" r="1.1"/><circle cx="1132.4" cy="289.8" r="1.1"/><circle cx="1141.2" cy="319.8" r="1.1"/><circle cx="1151.2" cy="237.9" r="1.1"/><circle cx="1136.5" cy="348.4" r="1.1"/><circle cx="1146.8" cy="215.5" r="1.1"/><circle cx="1145.9" cy="340.2" r="1.1"/><circle cx="1144.4" cy="340.2" r="1.1"/><circle cx="1143.8" cy="348.5" r="1.1"/><circle cx="1136.0" cy="219.1" r="1.1"/><circle cx="1152.0" cy="228.3" r="1.1"/><circle cx="1156.4" cy="275.4" r="1.1"/><circle cx="1142.4" cy="332.7" r="1.1"/><circle cx="1149.5" cy="329.3" r="1.1"/><circle cx="1145.2" cy="350.5" r="1.1"/><circle cx="1132.9" cy="312.7" r="1.1"/><circle cx="1139.1" cy="231.7" r="1.1"/><circle cx="1142.5" cy="330.2" r="1.1"/><circle cx="1143.5" cy="315.9" r="1.1"/><circle cx="1141.2" cy="239.0" r="1.1"/><circle cx="1151.1" cy="235.2" r="1.1"/><circle cx="1145.8" cy="227.7" r="1.1"/><circle cx="1150.3" cy="323.8" r="1.1"/><circle cx="1154.3" cy="235.2" r="1.1"/><circle cx="1138.1" cy="221.5" r="1.1"/><circle cx="1144.6" cy="330.8" r="1.1"/><circle cx="1137.9" cy="327.4" r="1.1"/><circle cx="1141.3" cy="325.1" r="1.1"/><circle cx="1150.3" cy="343.5" r="1.1"/><circle cx="1140.4" cy="336.8" r="1.1"/><circle cx="1151.8" cy="219.8" r="1.1"/><circle cx="1137.9" cy="204.9" r="1.1"/><circle cx="1152.5" cy="332.4" r="1.1"/><circle cx="1148.0" cy="235.3" r="1.1"/><circle cx="1133.7" cy="240.6" r="1.1"/><circle cx="1150.1" cy="238.3" r="1.1"/><circle cx="1145.1" cy="356.5" r="1.1"/><circle cx="1158.4" cy="235.6" r="1.1"/><circle cx="1150.6" cy="223.1" r="1.1"/><circle cx="1140.7" cy="311.2" r="1.1"/><circle cx="1144.0" cy="351.3" r="1.1"/><circle cx="1146.9" cy="217.4" r="1.1"/><circle cx="1152.0" cy="207.0" r="1.1"/><circle cx="1141.4" cy="328.9" r="1.1"/><circle cx="1132.6" cy="235.6" r="1.1"/><circle cx="1144.5" cy="214.1" r="1.1"/><circle cx="1153.6" cy="232.7" r="1.1"/><circle cx="1141.8" cy="328.6" r="1.1"/><circle cx="1152.2" cy="333.2" r="1.1"/><circle cx="1147.1" cy="325.6" r="1.1"/><circle cx="1152.2" cy="325.9" r="1.1"/><circle cx="1142.6" cy="355.5" r="1.1"/><circle cx="1148.3" cy="313.9" r="1.1"/><circle cx="1148.1" cy="226.6" r="1.1"/><circle cx="1147.7" cy="234.6" r="1.1"/><circle cx="1144.6" cy="340.9" r="1.1"/><circle cx="1147.6" cy="223.3" r="1.1"/><circle cx="1183.7" cy="342.8" r="1.1"/><circle cx="1177.0" cy="219.6" r="1.1"/><circle cx="1162.8" cy="245.6" r="1.1"/><circle cx="1186.6" cy="352.5" r="1.1"/><circle cx="1164.2" cy="352.8" r="1.1"/><circle cx="1175.0" cy="213.1" r="1.1"/><circle cx="1183.4" cy="311.4" r="1.1"/><circle cx="1165.0" cy="216.3" r="1.1"/><circle cx="1163.4" cy="308.0" r="1.1"/><circle cx="1171.5" cy="359.3" r="1.1"/><circle cx="1186.9" cy="350.0" r="1.1"/><circle cx="1170.8" cy="237.6" r="1.1"/><circle cx="1182.0" cy="311.6" r="1.1"/><circle cx="1165.6" cy="202.6" r="1.1"/><circle cx="1182.3" cy="343.5" r="1.1"/><circle cx="1184.6" cy="333.9" r="1.1"/><circle cx="1176.4" cy="215.2" r="1.1"/><circle cx="1173.8" cy="236.7" r="1.1"/><circle cx="1163.4" cy="205.5" r="1.1"/><circle cx="1186.2" cy="266.2" r="1.1"/><circle cx="1182.2" cy="238.1" r="1.1"/><circle cx="1177.7" cy="333.0" r="1.1"/><circle cx="1176.1" cy="319.9" r="1.1"/><circle cx="1172.8" cy="356.5" r="1.1"/><circle cx="1182.9" cy="325.5" r="1.1"/><circle cx="1169.4" cy="341.8" r="1.1"/><circle cx="1170.4" cy="210.9" r="1.1"/><circle cx="1186.9" cy="288.4" r="1.1"/><circle cx="1180.5" cy="231.8" r="1.1"/><circle cx="1184.4" cy="356.6" r="1.1"/><circle cx="1178.0" cy="210.0" r="1.1"/><circle cx="1181.5" cy="360.6" r="1.1"/><circle cx="1172.4" cy="320.2" r="1.1"/><circle cx="1177.2" cy="220.3" r="1.1"/><circle cx="1183.9" cy="326.1" r="1.1"/><circle cx="1165.2" cy="332.0" r="1.1"/><circle cx="1178.5" cy="311.8" r="1.1"/><circle cx="1173.0" cy="218.5" r="1.1"/><circle cx="1173.8" cy="217.4" r="1.1"/><circle cx="1175.6" cy="232.2" r="1.1"/><circle cx="1176.6" cy="215.4" r="1.1"/><circle cx="1176.8" cy="314.6" r="1.1"/><circle cx="1172.7" cy="314.6" r="1.1"/><circle cx="1176.3" cy="321.5" r="1.1"/><circle cx="1178.0" cy="221.3" r="1.1"/><circle cx="1162.7" cy="306.8" r="1.1"/><circle cx="1170.3" cy="225.6" r="1.1"/><circle cx="1181.1" cy="335.0" r="1.1"/><circle cx="1161.2" cy="250.0" r="1.1"/><circle cx="1185.8" cy="251.2" r="1.1"/><circle cx="1168.6" cy="220.9" r="1.1"/><circle cx="1187.2" cy="316.7" r="1.1"/><circle cx="1185.3" cy="316.5" r="1.1"/><circle cx="1197.7" cy="387.5" r="1.1"/><circle cx="1212.9" cy="390.2" r="1.1"/><circle cx="1212.8" cy="368.5" r="1.1"/><circle cx="1216.1" cy="366.5" r="1.1"/><circle cx="1200.1" cy="376.7" r="1.1"/><circle cx="1208.2" cy="382.4" r="1.1"/><circle cx="1212.8" cy="376.6" r="1.1"/><circle cx="1216.2" cy="384.6" r="1.1"/><circle cx="1220.5" cy="388.9" r="1.1"/><circle cx="1229.8" cy="368.7" r="1.1"/><circle cx="1234.1" cy="384.6" r="1.1"/><circle cx="1230.1" cy="384.5" r="1.1"/><circle cx="1236.5" cy="367.2" r="1.1"/><circle cx="1239.5" cy="384.2" r="1.1"/><circle cx="1224.8" cy="391.2" r="1.1"/><circle cx="1223.9" cy="380.9" r="1.1"/><circle cx="1221.9" cy="362.0" r="1.1"/><circle cx="1239.2" cy="372.6" r="1.1"/></g>
<g fill="#6a6a6a" fill-opacity="0.45"><circle cx="329.1" cy="410.9" r="1.1"/><circle cx="328.2" cy="401.8" r="1.1"/><circle cx="326.3" cy="390.4" r="1.1"/><circle cx="314.0" cy="386.4" r="1.1"/><circle cx="321.3" cy="409.9" r="1.1"/><circle cx="328.7" cy="405.5" r="1.1"/><circle cx="319.9" cy="393.6" r="1.1"/><circle cx="321.1" cy="402.1" r="1.1"/><circle cx="320.0" cy="401.2" r="1.1"/><circle cx="327.4" cy="394.4" r="1.1"/><circle cx="305.5" cy="387.4" r="1.1"/><circle cx="328.6" cy="403.4" r="1.1"/><circle cx="339.5" cy="400.6" r="1.1"/><circle cx="315.3" cy="395.6" r="1.1"/><circle cx="360.3" cy="394.3" r="1.1"/><circle cx="362.2" cy="400.2" r="1.1"/><circle cx="362.3" cy="410.8" r="1.1"/><circle cx="342.5" cy="399.8" r="1.1"/><circle cx="366.7" cy="401.6" r="1.1"/><circle cx="355.0" cy="399.3" r="1.1"/><circle cx="365.8" cy="386.3" r="1.1"/><circle cx="356.7" cy="387.5" r="1.1"/><circle cx="349.2" cy="402.2" r="1.1"/><circle cx="353.5" cy="395.5" r="1.1"/><circle cx="351.4" cy="399.2" r="1.1"/><circle cx="351.4" cy="400.7" r="1.1"/><circle cx="367.4" cy="409.8" r="1.1"/><circle cx="348.0" cy="395.6" r="1.1"/><circle cx="382.9" cy="409.5" r="1.1"/><circle cx="382.9" cy="386.0" r="1.1"/><circle cx="396.0" cy="388.4" r="1.1"/><circle cx="392.9" cy="401.8" r="1.1"/><circle cx="398.4" cy="394.2" r="1.1"/><circle cx="397.2" cy="393.8" r="1.1"/><circle cx="389.5" cy="407.2" r="1.1"/><circle cx="379.0" cy="392.3" r="1.1"/><circle cx="375.7" cy="407.5" r="1.1"/><circle cx="384.7" cy="403.4" r="1.1"/><circle cx="378.0" cy="405.5" r="1.1"/><circle cx="383.6" cy="388.5" r="1.1"/><circle cx="383.2" cy="397.7" r="1.1"/><circle cx="381.6" cy="388.7" r="1.1"/><circle cx="403.6" cy="407.6" r="1.1"/><circle cx="413.8" cy="395.5" r="1.1"/><circle cx="428.7" cy="397.2" r="1.1"/><circle cx="420.0" cy="392.4" r="1.1"/><circle cx="398.7" cy="398.5" r="1.1"/><circle cx="410.0" cy="396.8" r="1.1"/><circle cx="420.9" cy="395.6" r="1.1"/><circle cx="426.1" cy="395.4" r="1.1"/><circle cx="406.7" cy="404.5" r="1.1"/><circle cx="423.1" cy="393.7" r="1.1"/><circle cx="407.5" cy="397.2" r="1.1"/><circle cx="419.1" cy="408.6" r="1.1"/><circle cx="419.5" cy="410.1" r="1.1"/><circle cx="412.7" cy="402.0" r="1.1"/><circle cx="442.8" cy="397.2" r="1.1"/><circle cx="448.7" cy="394.8" r="1.1"/><circle cx="432.6" cy="409.5" r="1.1"/><circle cx="443.5" cy="396.6" r="1.1"/><circle cx="432.1" cy="398.3" r="1.1"/><circle cx="449.3" cy="400.1" r="1.1"/><circle cx="426.0" cy="390.0" r="1.1"/><circle cx="443.4" cy="408.2" r="1.1"/><circle cx="441.1" cy="397.0" r="1.1"/><circle cx="442.2" cy="387.1" r="1.1"/><circle cx="435.5" cy="403.2" r="1.1"/><circle cx="446.8" cy="406.5" r="1.1"/><circle cx="428.2" cy="399.8" r="1.1"/><circle cx="438.4" cy="387.1" r="1.1"/><circle cx="459.3" cy="407.7" r="1.1"/><circle cx="480.2" cy="393.5" r="1.1"/><circle cx="468.9" cy="393.5" r="1.1"/><circle cx="471.6" cy="405.0" r="1.1"/><circle cx="477.9" cy="410.6" r="1.1"/><circle cx="477.5" cy="386.2" r="1.1"/><circle cx="468.3" cy="399.6" r="1.1"/><circle cx="473.3" cy="393.9" r="1.1"/><circle cx="470.0" cy="399.8" r="1.1"/><circle cx="475.0" cy="386.9" r="1.1"/><circle cx="469.9" cy="397.8" r="1.1"/><circle cx="455.3" cy="402.6" r="1.1"/><circle cx="478.2" cy="397.1" r="1.1"/><circle cx="478.2" cy="391.2" r="1.1"/><circle cx="498.9" cy="394.3" r="1.1"/><circle cx="489.9" cy="396.8" r="1.1"/><circle cx="497.9" cy="406.9" r="1.1"/><circle cx="486.0" cy="408.5" r="1.1"/><circle cx="489.2" cy="388.9" r="1.1"/><circle cx="489.2" cy="390.5" r="1.1"/><circle cx="496.1" cy="397.2" r="1.1"/><circle cx="496.1" cy="405.4" r="1.1"/><circle cx="500.9" cy="408.9" r="1.1"/><circle cx="506.6" cy="397.9" r="1.1"/><circle cx="488.8" cy="408.1" r="1.1"/><circle cx="493.6" cy="409.1" r="1.1"/><circle cx="497.9" cy="403.5" r="1.1"/><circle cx="495.0" cy="406.9" r="1.1"/><circle cx="535.1" cy="408.3" r="1.1"/><circle cx="523.8" cy="409.5" r="1.1"/><circle cx="528.2" cy="405.4" r="1.1"/><circle cx="535.9" cy="388.5" r="1.1"/><circle cx="530.1" cy="405.6" r="1.1"/><circle cx="529.7" cy="403.1" r="1.1"/><circle cx="532.1" cy="387.1" r="1.1"/><circle cx="535.2" cy="406.1" r="1.1"/><circle cx="534.5" cy="393.5" r="1.1"/><circle cx="520.3" cy="398.2" r="1.1"/><circle cx="527.6" cy="402.9" r="1.1"/><circle cx="536.8" cy="409.7" r="1.1"/><circle cx="529.6" cy="403.6" r="1.1"/><circle cx="535.5" cy="386.4" r="1.1"/><circle cx="553.7" cy="403.4" r="1.1"/><circle cx="557.9" cy="389.6" r="1.1"/><circle cx="564.5" cy="389.3" r="1.1"/><circle cx="564.1" cy="392.7" r="1.1"/><circle cx="552.2" cy="402.2" r="1.1"/><circle cx="567.4" cy="398.8" r="1.1"/><circle cx="568.2" cy="391.4" r="1.1"/><circle cx="545.1" cy="393.8" r="1.1"/><circle cx="549.0" cy="386.9" r="1.1"/><circle cx="566.3" cy="408.0" r="1.1"/><circle cx="566.7" cy="405.0" r="1.1"/><circle cx="558.8" cy="391.2" r="1.1"/><circle cx="561.2" cy="405.4" r="1.1"/><circle cx="548.4" cy="406.6" r="1.1"/><circle cx="588.8" cy="386.4" r="1.1"/><circle cx="589.9" cy="397.2" r="1.1"/><circle cx="586.7" cy="392.0" r="1.1"/><circle cx="585.3" cy="409.5" r="1.1"/><circle cx="582.6" cy="394.1" r="1.1"/><circle cx="586.6" cy="406.9" r="1.1"/><circle cx="577.5" cy="403.5" r="1.1"/><circle cx="592.9" cy="395.7" r="1.1"/><circle cx="588.2" cy="407.6" r="1.1"/><circle cx="587.0" cy="400.8" r="1.1"/><circle cx="601.6" cy="397.5" r="1.1"/><circle cx="571.7" cy="404.3" r="1.1"/><circle cx="585.1" cy="402.6" r="1.1"/><circle cx="594.9" cy="409.3" r="1.1"/><circle cx="610.6" cy="390.3" r="1.1"/><circle cx="615.4" cy="408.5" r="1.1"/><circle cx="612.3" cy="400.6" r="1.1"/><circle cx="618.1" cy="389.9" r="1.1"/><circle cx="610.9" cy="408.7" r="1.1"/><circle cx="604.1" cy="389.3" r="1.1"/><circle cx="607.8" cy="395.9" r="1.1"/><circle cx="620.2" cy="397.9" r="1.1"/><circle cx="620.3" cy="408.6" r="1.1"/><circle cx="623.8" cy="392.3" r="1.1"/><circle cx="627.0" cy="403.0" r="1.1"/><circle cx="610.0" cy="389.4" r="1.1"/><circle cx="621.8" cy="403.5" r="1.1"/><circle cx="616.6" cy="391.2" r="1.1"/><circle cx="654.4" cy="396.7" r="1.1"/><circle cx="650.7" cy="404.8" r="1.1"/><circle cx="634.0" cy="410.5" r="1.1"/><circle cx="648.3" cy="388.9" r="1.1"/><circle cx="646.4" cy="408.2" r="1.1"/><circle cx="634.2" cy="391.0" r="1.1"/><circle cx="661.9" cy="402.1" r="1.1"/><circle cx="645.5" cy="392.8" r="1.1"/><circle cx="647.7" cy="387.1" r="1.1"/><circle cx="645.5" cy="390.7" r="1.1"/><circle cx="653.6" cy="392.2" r="1.1"/><circle cx="642.1" cy="402.4" r="1.1"/><circle cx="640.1" cy="407.9" r="1.1"/><circle cx="631.9" cy="392.0" r="1.1"/><circle cx="665.8" cy="399.8" r="1.1"/><circle cx="674.7" cy="406.0" r="1.1"/><circle cx="664.0" cy="409.3" r="1.1"/><circle cx="691.3" cy="405.1" r="1.1"/><circle cx="682.1" cy="400.3" r="1.1"/><circle cx="663.1" cy="388.4" r="1.1"/><circle cx="679.5" cy="396.2" r="1.1"/><circle cx="668.4" cy="403.6" r="1.1"/><circle cx="687.4" cy="408.0" r="1.1"/><circle cx="664.9" cy="405.0" r="1.1"/><circle cx="676.9" cy="394.6" r="1.1"/><circle cx="675.3" cy="397.5" r="1.1"/><circle cx="678.6" cy="394.0" r="1.1"/><circle cx="680.8" cy="408.1" r="1.1"/><circle cx="714.9" cy="409.3" r="1.1"/><circle cx="686.2" cy="391.9" r="1.1"/><circle cx="703.6" cy="399.3" r="1.1"/><circle cx="703.5" cy="399.2" r="1.1"/><circle cx="717.9" cy="395.9" r="1.1"/><circle cx="700.1" cy="410.0" r="1.1"/><circle cx="714.2" cy="393.6" r="1.1"/><circle cx="709.3" cy="406.0" r="1.1"/><circle cx="709.9" cy="403.1" r="1.1"/><circle cx="705.2" cy="406.1" r="1.1"/><circle cx="714.7" cy="386.2" r="1.1"/><circle cx="717.2" cy="398.2" r="1.1"/><circle cx="704.9" cy="394.4" r="1.1"/><circle cx="715.7" cy="395.3" r="1.1"/><circle cx="750.2" cy="391.5" r="1.1"/><circle cx="719.2" cy="392.8" r="1.1"/><circle cx="726.0" cy="393.5" r="1.1"/><circle cx="739.0" cy="400.9" r="1.1"/><circle cx="735.0" cy="403.2" r="1.1"/><circle cx="738.0" cy="397.6" r="1.1"/><circle cx="720.8" cy="397.7" r="1.1"/><circle cx="730.3" cy="407.5" r="1.1"/><circle cx="749.0" cy="406.4" r="1.1"/><circle cx="727.6" cy="392.8" r="1.1"/><circle cx="748.7" cy="388.8" r="1.1"/><circle cx="721.5" cy="394.7" r="1.1"/><circle cx="728.5" cy="407.1" r="1.1"/><circle cx="739.2" cy="394.2" r="1.1"/><circle cx="752.3" cy="409.6" r="1.1"/><circle cx="756.1" cy="400.5" r="1.1"/><circle cx="762.6" cy="402.3" r="1.1"/><circle cx="764.0" cy="387.8" r="1.1"/><circle cx="764.5" cy="389.6" r="1.1"/><circle cx="765.2" cy="406.0" r="1.1"/><circle cx="768.7" cy="410.2" r="1.1"/><circle cx="772.8" cy="392.9" r="1.1"/><circle cx="773.6" cy="404.3" r="1.1"/><circle cx="773.9" cy="396.2" r="1.1"/><circle cx="771.8" cy="391.0" r="1.1"/><circle cx="761.3" cy="399.4" r="1.1"/><circle cx="758.1" cy="409.0" r="1.1"/><circle cx="756.1" cy="396.3" r="1.1"/><circle cx="785.8" cy="397.9" r="1.1"/><circle cx="784.3" cy="403.5" r="1.1"/><circle cx="795.4" cy="390.6" r="1.1"/><circle cx="787.6" cy="397.3" r="1.1"/><circle cx="793.5" cy="404.7" r="1.1"/><circle cx="793.8" cy="389.2" r="1.1"/><circle cx="800.4" cy="397.8" r="1.1"/><circle cx="796.2" cy="401.2" r="1.1"/><circle cx="785.2" cy="397.6" r="1.1"/><circle cx="801.9" cy="410.9" r="1.1"/><circle cx="790.7" cy="391.6" r="1.1"/><circle cx="800.4" cy="392.2" r="1.1"/><circle cx="806.8" cy="395.8" r="1.1"/><circle cx="800.5" cy="402.3" r="1.1"/><circle cx="807.4" cy="394.0" r="1.1"/><circle cx="830.0" cy="386.9" r="1.1"/><circle cx="820.5" cy="406.2" r="1.1"/><circle cx="820.1" cy="395.8" r="1.1"/><circle cx="821.3" cy="397.0" r="1.1"/><circle cx="840.5" cy="408.9" r="1.1"/><circle cx="831.1" cy="389.5" r="1.1"/><circle cx="819.7" cy="402.8" r="1.1"/><circle cx="821.2" cy="392.7" r="1.1"/><circle cx="831.4" cy="386.5" r="1.1"/><circle cx="816.1" cy="387.7" r="1.1"/><circle cx="840.0" cy="406.4" r="1.1"/><circle cx="810.8" cy="388.8" r="1.1"/><circle cx="833.1" cy="405.7" r="1.1"/><circle cx="841.6" cy="389.2" r="1.1"/><circle cx="861.6" cy="403.5" r="1.1"/><circle cx="857.4" cy="394.4" r="1.1"/><circle cx="854.9" cy="403.6" r="1.1"/><circle cx="855.6" cy="407.2" r="1.1"/><circle cx="857.9" cy="396.2" r="1.1"/><circle cx="844.6" cy="388.4" r="1.1"/><circle cx="840.4" cy="387.2" r="1.1"/><circle cx="860.7" cy="401.4" r="1.1"/><circle cx="850.3" cy="406.6" r="1.1"/><circle cx="848.6" cy="400.1" r="1.1"/><circle cx="845.0" cy="389.7" r="1.1"/><circle cx="861.6" cy="409.3" r="1.1"/><circle cx="840.4" cy="398.7" r="1.1"/><circle cx="875.8" cy="395.0" r="1.1"/><circle cx="867.9" cy="406.9" r="1.1"/><circle cx="885.7" cy="386.1" r="1.1"/><circle cx="883.7" cy="397.4" r="1.1"/><circle cx="881.6" cy="408.3" r="1.1"/><circle cx="873.5" cy="400.0" r="1.1"/><circle cx="869.8" cy="401.5" r="1.1"/><circle cx="887.1" cy="401.5" r="1.1"/><circle cx="870.0" cy="386.4" r="1.1"/><circle cx="895.1" cy="408.6" r="1.1"/><circle cx="878.0" cy="390.3" r="1.1"/><circle cx="872.0" cy="407.5" r="1.1"/><circle cx="894.1" cy="395.5" r="1.1"/><circle cx="885.0" cy="400.4" r="1.1"/><circle cx="903.6" cy="401.0" r="1.1"/><circle cx="907.5" cy="392.0" r="1.1"/><circle cx="912.8" cy="394.5" r="1.1"/><circle cx="917.2" cy="396.6" r="1.1"/><circle cx="918.0" cy="410.7" r="1.1"/><circle cx="916.6" cy="403.9" r="1.1"/><circle cx="922.3" cy="410.3" r="1.1"/><circle cx="909.9" cy="400.2" r="1.1"/><circle cx="903.8" cy="405.5" r="1.1"/><circle cx="909.0" cy="398.2" r="1.1"/><circle cx="913.1" cy="404.1" r="1.1"/><circle cx="930.2" cy="406.0" r="1.1"/><circle cx="909.1" cy="398.4" r="1.1"/><circle cx="918.1" cy="394.9" r="1.1"/><circle cx="935.4" cy="410.1" r="1.1"/><circle cx="940.0" cy="410.1" r="1.1"/><circle cx="944.5" cy="406.7" r="1.1"/><circle cx="927.2" cy="409.9" r="1.1"/><circle cx="942.1" cy="387.7" r="1.1"/><circle cx="942.1" cy="402.1" r="1.1"/><circle cx="943.8" cy="395.2" r="1.1"/><circle cx="943.1" cy="391.6" r="1.1"/><circle cx="934.9" cy="410.5" r="1.1"/><circle cx="926.3" cy="405.9" r="1.1"/><circle cx="929.5" cy="405.6" r="1.1"/><circle cx="949.9" cy="388.9" r="1.1"/><circle cx="944.7" cy="406.4" r="1.1"/><circle cx="947.0" cy="397.9" r="1.1"/><circle cx="967.7" cy="389.5" r="1.1"/><circle cx="974.2" cy="393.7" r="1.1"/><circle cx="984.6" cy="409.1" r="1.1"/><circle cx="970.2" cy="395.7" r="1.1"/><circle cx="963.2" cy="404.6" r="1.1"/><circle cx="970.0" cy="398.7" r="1.1"/><circle cx="986.2" cy="397.3" r="1.1"/><circle cx="960.3" cy="398.9" r="1.1"/><circle cx="968.5" cy="393.0" r="1.1"/><circle cx="969.0" cy="401.3" r="1.1"/><circle cx="966.0" cy="396.6" r="1.1"/><circle cx="972.1" cy="407.9" r="1.1"/><circle cx="954.6" cy="388.2" r="1.1"/><circle cx="958.4" cy="410.3" r="1.1"/><circle cx="993.3" cy="401.6" r="1.1"/><circle cx="995.8" cy="386.2" r="1.1"/><circle cx="1003.1" cy="392.6" r="1.1"/><circle cx="998.0" cy="405.8" r="1.1"/><circle cx="1007.6" cy="401.2" r="1.1"/><circle cx="990.7" cy="401.3" r="1.1"/><circle cx="1004.2" cy="388.8" r="1.1"/><circle cx="996.0" cy="388.0" r="1.1"/><circle cx="985.6" cy="405.9" r="1.1"/><circle cx="996.5" cy="410.1" r="1.1"/><circle cx="994.8" cy="400.1" r="1.1"/><circle cx="1002.9" cy="396.9" r="1.1"/><circle cx="1009.7" cy="402.0" r="1.1"/><circle cx="993.7" cy="394.0" r="1.1"/><circle cx="1023.4" cy="403.1" r="1.1"/><circle cx="1018.3" cy="405.7" r="1.1"/><circle cx="1033.1" cy="388.6" r="1.1"/><circle cx="1017.3" cy="386.8" r="1.1"/><circle cx="1032.1" cy="409.1" r="1.1"/><circle cx="1037.3" cy="397.7" r="1.1"/><circle cx="1023.8" cy="397.6" r="1.1"/><circle cx="1036.3" cy="386.1" r="1.1"/><circle cx="1018.8" cy="401.6" r="1.1"/><circle cx="1027.5" cy="409.2" r="1.1"/><circle cx="1024.8" cy="386.8" r="1.1"/><circle cx="1033.7" cy="402.3" r="1.1"/><circle cx="1018.5" cy="397.3" r="1.1"/><circle cx="1036.5" cy="387.1" r="1.1"/><circle cx="1047.4" cy="402.4" r="1.1"/><circle cx="1068.2" cy="405.2" r="1.1"/><circle cx="1056.0" cy="399.6" r="1.1"/><circle cx="1065.7" cy="388.0" r="1.1"/><circle cx="1054.7" cy="410.6" r="1.1"/><circle cx="1066.0" cy="398.3" r="1.1"/><circle cx="1056.9" cy="403.7" r="1.1"/><circle cx="1051.9" cy="396.5" r="1.1"/><circle cx="1056.0" cy="389.9" r="1.1"/><circle cx="1060.0" cy="387.7" r="1.1"/><circle cx="1062.0" cy="392.7" r="1.1"/><circle cx="1058.7" cy="388.1" r="1.1"/><circle cx="1064.3" cy="405.4" r="1.1"/><circle cx="1052.2" cy="401.5" r="1.1"/><circle cx="1088.5" cy="399.6" r="1.1"/><circle cx="1098.4" cy="392.4" r="1.1"/><circle cx="1081.9" cy="387.9" r="1.1"/><circle cx="1097.7" cy="398.2" r="1.1"/><circle cx="1095.0" cy="387.7" r="1.1"/><circle cx="1087.4" cy="399.4" r="1.1"/><circle cx="1081.6" cy="391.6" r="1.1"/><circle cx="1086.7" cy="409.4" r="1.1"/><circle cx="1103.9" cy="392.9" r="1.1"/><circle cx="1078.9" cy="395.0" r="1.1"/><circle cx="1078.0" cy="409.9" r="1.1"/><circle cx="1089.0" cy="392.9" r="1.1"/><circle cx="1086.2" cy="407.1" r="1.1"/><circle cx="1085.0" cy="409.8" r="1.1"/><circle cx="1130.6" cy="403.9" r="1.1"/><circle cx="1123.3" cy="406.2" r="1.1"/><circle cx="1121.8" cy="390.5" r="1.1"/><circle cx="1109.1" cy="407.5" r="1.1"/><circle cx="1117.3" cy="410.8" r="1.1"/><circle cx="1098.3" cy="394.2" r="1.1"/><circle cx="1116.4" cy="395.0" r="1.1"/><circle cx="1120.7" cy="399.3" r="1.1"/><circle cx="1117.3" cy="397.5" r="1.1"/><circle cx="1120.5" cy="399.1" r="1.1"/><circle cx="1108.2" cy="389.7" r="1.1"/><circle cx="1122.0" cy="396.8" r="1.1"/><circle cx="1115.7" cy="389.4" r="1.1"/><circle cx="1114.4" cy="402.2" r="1.1"/><circle cx="1195.7" cy="391.5" r="1.1"/><circle cx="1199.3" cy="402.1" r="1.1"/><circle cx="1198.6" cy="406.6" r="1.1"/><circle cx="1215.7" cy="397.2" r="1.1"/><circle cx="1214.3" cy="409.1" r="1.1"/><circle cx="1197.6" cy="408.5" r="1.1"/><circle cx="1187.2" cy="402.5" r="1.1"/><circle cx="1202.9" cy="403.2" r="1.1"/><circle cx="1205.4" cy="411.0" r="1.1"/><circle cx="1216.7" cy="406.0" r="1.1"/><circle cx="1209.9" cy="409.5" r="1.1"/><circle cx="1199.5" cy="395.3" r="1.1"/><circle cx="1205.3" cy="390.2" r="1.1"/><circle cx="1195.8" cy="397.9" r="1.1"/><circle cx="1223.3" cy="388.0" r="1.1"/><circle cx="1245.0" cy="390.9" r="1.1"/><circle cx="1221.1" cy="393.9" r="1.1"/><circle cx="1238.7" cy="398.6" r="1.1"/><circle cx="1250.2" cy="400.2" r="1.1"/><circle cx="1216.8" cy="402.8" r="1.1"/><circle cx="1233.8" cy="387.4" r="1.1"/><circle cx="1234.3" cy="396.2" r="1.1"/><circle cx="1236.3" cy="389.0" r="1.1"/><circle cx="1227.3" cy="404.4" r="1.1"/><circle cx="1242.8" cy="390.5" r="1.1"/><circle cx="1240.8" cy="390.4" r="1.1"/><circle cx="1232.5" cy="410.9" r="1.1"/><circle cx="1227.6" cy="397.5" r="1.1"/></g>
<rect x="77.60" y="319.30" width="22.00" height="27.00" fill="#1f77b4" stroke="#263139" stroke-width="1.5"/><line x1="77.60" y1="337.50" x2="99.60" y2="337.50" stroke="#263139" stroke-width="1.5" stroke-dasharray="4,2"/><rect x="106.95" y="319.30" width="22.00" height="26.50" fill="#1f77b4" stroke="#263139" stroke-width="1.5"/><line x1="106.95" y1="339.60" x2="128.95" y2="339.60" stroke="#263139" stroke-width="1.5" stroke-dasharray="4,2"/><rect x="136.10" y="188.50" width="22.40" height="59.60" fill="#ff7f0e" stroke="#423223" stroke-width="1.5"/><line x1="136.10" y1="209.20" x2="158.50" y2="209.20" stroke="#423223" stroke-width="1.5"/><rect x="165.25" y="192.80" width="22.80" height="54.60" fill="#ff7f0e" stroke="#423223" stroke-width="1.5"/><line x1="165.25" y1="212.00" x2="188.05" y2="212.00" stroke="#423223" stroke-width="1.5"/><rect x="194.90" y="186.30" width="22.20" height="65.80" fill="#2ca02c" stroke="#273627" stroke-width="1.5"/><line x1="194.90" y1="221.20" x2="217.10" y2="221.20" stroke="#273627" stroke-width="1.5"/><rect x="224.15" y="190.70" width="22.40" height="64.30" fill="#2ca02c" stroke="#273627" stroke-width="1.5"/><line x1="224.15" y1="220.00" x2="246.55" y2="220.00" stroke="#273627" stroke-width="1.5"/><rect x="253.80" y="208.40" width="21.80" height="97.30" fill="#d62728" stroke="#3d2627" stroke-width="1.5"/><line x1="253.80" y1="236.50" x2="275.60" y2="236.50" stroke="#3d2627" stroke-width="1.5"/><rect x="283.25" y="212.90" width="21.60" height="92.80" fill="#d62728" stroke="#3d2627" stroke-width="1.5"/><line x1="283.25" y1="238.60" x2="304.85" y2="238.60" stroke="#3d2627" stroke-width="1.5"/><rect x="1134.10" y="240.10" width="22.20" height="69.60" fill="#bcbd22" stroke="#3a3a26" stroke-width="1.5"/><line x1="1134.10" y1="258.20" x2="1156.30" y2="258.20" stroke="#3a3a26" stroke-width="1.5"/><rect x="1163.55" y="241.30" width="22.00" height="68.40" fill="#bcbd22" stroke="#3a3a26" stroke-width="1.5"/><line x1="1163.55" y1="263.80" x2="1185.55" y2="263.80" stroke="#3a3a26" stroke-width="1.5"/>
<g fill="#6a6a6a" fill-opacity="0.55"><circle cx="78.5" cy="330.5" r="1.1"/><circle cx="99.2" cy="338.2" r="1.1"/><circle cx="83.0" cy="337.8" r="1.1"/><circle cx="84.5" cy="338.6" r="1.1"/><circle cx="93.7" cy="346.2" r="1.1"/><circle cx="97.3" cy="344.7" r="1.1"/><circle cx="94.3" cy="331.2" r="1.1"/><circle cx="80.5" cy="334.8" r="1.1"/><circle cx="90.2" cy="322.9" r="1.1"/><circle cx="86.2" cy="334.8" r="1.1"/><circle cx="84.8" cy="343.3" r="1.1"/><circle cx="98.3" cy="330.1" r="1.1"/><circle cx="80.2" cy="335.1" r="1.1"/><circle cx="92.3" cy="331.1" r="1.1"/><circle cx="93.1" cy="325.5" r="1.1"/><circle cx="85.0" cy="340.0" r="1.1"/><circle cx="89.1" cy="326.3" r="1.1"/><circle cx="93.0" cy="326.5" r="1.1"/><circle cx="92.3" cy="321.0" r="1.1"/><circle cx="94.1" cy="326.8" r="1.1"/><circle cx="81.1" cy="329.6" r="1.1"/><circle cx="81.2" cy="331.9" r="1.1"/><circle cx="78.2" cy="325.5" r="1.1"/><circle cx="95.4" cy="342.5" r="1.1"/><circle cx="93.5" cy="342.7" r="1.1"/><circle cx="89.2" cy="343.2" r="1.1"/><circle cx="87.9" cy="339.1" r="1.1"/><circle cx="82.9" cy="322.9" r="1.1"/><circle cx="94.8" cy="323.6" r="1.1"/><circle cx="89.1" cy="332.8" r="1.1"/><circle cx="83.7" cy="326.2" r="1.1"/><circle cx="81.4" cy="321.6" r="1.1"/><circle cx="84.0" cy="320.1" r="1.1"/><circle cx="78.2" cy="344.4" r="1.1"/><circle cx="96.1" cy="332.2" r="1.1"/><circle cx="95.0" cy="341.5" r="1.1"/><circle cx="87.7" cy="322.5" r="1.1"/><circle cx="82.1" cy="330.4" r="1.1"/><circle cx="127.6" cy="324.0" r="1.1"/><circle cx="113.6" cy="323.5" r="1.1"/><circle cx="114.0" cy="342.0" r="1.1"/><circle cx="124.6" cy="342.5" r="1.1"/><circle cx="114.4" cy="326.8" r="1.1"/><circle cx="126.4" cy="321.3" r="1.1"/><circle cx="110.8" cy="333.8" r="1.1"/><circle cx="112.9" cy="331.9" r="1.1"/><circle cx="107.9" cy="334.7" r="1.1"/><circle cx="110.9" cy="344.8" r="1.1"/><circle cx="124.4" cy="328.9" r="1.1"/><circle cx="120.6" cy="324.9" r="1.1"/><circle cx="118.7" cy="319.6" r="1.1"/><circle cx="113.1" cy="320.5" r="1.1"/><circle cx="115.8" cy="331.9" r="1.1"/><circle cx="127.0" cy="337.8" r="1.1"/><circle cx="116.0" cy="329.4" r="1.1"/><circle cx="122.5" cy="326.1" r="1.1"/><circle cx="111.7" cy="340.4" r="1.1"/><circle cx="121.7" cy="327.9" r="1.1"/><circle cx="121.6" cy="327.4" r="1.1"/><circle cx="112.3" cy="323.3" r="1.1"/><circle cx="125.3" cy="341.7" r="1.1"/><circle cx="108.3" cy="327.5" r="1.1"/><circle cx="107.3" cy="336.4" r="1.1"/><circle cx="125.9" cy="335.4" r="1.1"/><circle cx="109.2" cy="343.1" r="1.1"/><circle cx="112.1" cy="331.8" r="1.1"/><circle cx="117.8" cy="337.3" r="1.1"/><circle cx="111.6" cy="331.0" r="1.1"/><circle cx="111.7" cy="342.4" r="1.1"/><circle cx="115.1" cy="334.7" r="1.1"/><circle cx="119.3" cy="319.7" r="1.1"/><circle cx="109.5" cy="338.7" r="1.1"/><circle cx="111.4" cy="338.6" r="1.1"/><circle cx="123.0" cy="338.0" r="1.1"/><circle cx="121.8" cy="342.1" r="1.1"/><circle cx="111.6" cy="331.9" r="1.1"/><circle cx="126.5" cy="329.1" r="1.1"/><circle cx="113.6" cy="322.1" r="1.1"/><circle cx="113.9" cy="340.0" r="1.1"/><circle cx="118.5" cy="325.7" r="1.1"/><circle cx="127.3" cy="321.3" r="1.1"/><circle cx="127.2" cy="342.9" r="1.1"/><circle cx="120.1" cy="328.5" r="1.1"/><circle cx="138.2" cy="226.2" r="1.1"/><circle cx="154.6" cy="219.2" r="1.1"/><circle cx="154.7" cy="228.4" r="1.1"/><circle cx="143.3" cy="213.2" r="1.1"/><circle cx="152.2" cy="237.2" r="1.1"/><circle cx="136.4" cy="219.8" r="1.1"/><circle cx="158.2" cy="237.9" r="1.1"/><circle cx="148.8" cy="239.1" r="1.1"/><circle cx="143.5" cy="197.5" r="1.1"/><circle cx="141.4" cy="245.7" r="1.1"/><circle cx="138.5" cy="210.4" r="1.1"/><circle cx="142.6" cy="214.2" r="1.1"/><circle cx="140.1" cy="238.5" r="1.1"/><circle cx="150.2" cy="230.8" r="1.1"/><circle cx="142.0" cy="227.0" r="1.1"/><circle cx="146.6" cy="215.0" r="1.1"/><circle cx="148.6" cy="191.0" r="1.1"/><circle cx="150.8" cy="210.9" r="1.1"/><circle cx="142.4" cy="205.3" r="1.1"/><circle cx="153.3" cy="217.3" r="1.1"/><circle cx="156.0" cy="215.4" r="1.1"/><circle cx="155.8" cy="228.4" r="1.1"/><circle cx="150.1" cy="190.2" r="1.1"/><circle cx="140.0" cy="200.8" r="1.1"/><circle cx="143.1" cy="203.1" r="1.1"/><circle cx="151.6" cy="194.5" r="1.1"/><circle cx="138.3" cy="205.5" r="1.1"/><circle cx="138.3" cy="190.9" r="1.1"/><circle cx="155.3" cy="206.8" r="1.1"/><circle cx="152.2" cy="213.6" r="1.1"/><circle cx="141.9" cy="244.3" r="1.1"/><circle cx="145.9" cy="199.6" r="1.1"/><circle cx="157.6" cy="221.9" r="1.1"/><circle cx="144.6" cy="233.6" r="1.1"/><circle cx="138.4" cy="193.9" r="1.1"/><circle cx="151.9" cy="233.9" r="1.1"/><circle cx="149.5" cy="192.6" r="1.1"/><circle cx="151.8" cy="198.5" r="1.1"/><circle cx="149.7" cy="201.1" r="1.1"/><circle cx="141.0" cy="243.9" r="1.1"/><circle cx="148.6" cy="197.6" r="1.1"/><circle cx="144.1" cy="226.3" r="1.1"/><circle cx="151.6" cy="243.3" r="1.1"/><circle cx="147.4" cy="195.1" r="1.1"/><circle cx="154.3" cy="228.3" r="1.1"/><circle cx="141.9" cy="217.9" r="1.1"/><circle cx="155.0" cy="199.0" r="1.1"/><circle cx="154.9" cy="240.3" r="1.1"/><circle cx="158.2" cy="233.1" r="1.1"/><circle cx="146.4" cy="200.1" r="1.1"/><circle cx="139.4" cy="235.6" r="1.1"/><circle cx="149.3" cy="248.1" r="1.1"/><circle cx="148.5" cy="206.2" r="1.1"/><circle cx="141.7" cy="242.6" r="1.1"/><circle cx="150.1" cy="193.9" r="1.1"/><circle cx="145.9" cy="219.6" r="1.1"/><circle cx="143.1" cy="234.8" r="1.1"/><circle cx="137.7" cy="230.6" r="1.1"/><circle cx="141.5" cy="196.4" r="1.1"/><circle cx="169.7" cy="203.3" r="1.1"/><circle cx="170.5" cy="209.7" r="1.1"/><circle cx="183.5" cy="217.3" r="1.1"/><circle cx="171.4" cy="246.0" r="1.1"/><circle cx="176.6" cy="216.7" r="1.1"/><circle cx="186.7" cy="197.9" r="1.1"/><circle cx="168.1" cy="230.6" r="1.1"/><circle cx="165.6" cy="199.5" r="1.1"/><circle cx="169.9" cy="215.6" r="1.1"/><circle cx="175.8" cy="217.4" r="1.1"/><circle cx="168.1" cy="216.6" r="1.1"/><circle cx="171.8" cy="230.0" r="1.1"/><circle cx="179.4" cy="196.2" r="1.1"/><circle cx="184.8" cy="226.9" r="1.1"/><circle cx="180.1" cy="219.8" r="1.1"/><circle cx="169.8" cy="221.4" r="1.1"/><circle cx="185.1" cy="240.3" r="1.1"/><circle cx="170.9" cy="198.3" r="1.1"/><circle cx="179.9" cy="199.4" r="1.1"/><circle cx="167.3" cy="217.0" r="1.1"/><circle cx="170.8" cy="240.9" r="1.1"/><circle cx="167.6" cy="205.6" r="1.1"/><circle cx="173.5" cy="223.1" r="1.1"/><circle cx="166.5" cy="199.5" r="1.1"/><circle cx="185.8" cy="197.9" r="1.1"/><circle cx="179.4" cy="202.9" r="1.1"/><circle cx="179.0" cy="202.0" r="1.1"/><circle cx="181.7" cy="228.2" r="1.1"/><circle cx="179.8" cy="202.2" r="1.1"/><circle cx="180.1" cy="195.1" r="1.1"/><circle cx="168.8" cy="235.5" r="1.1"/><circle cx="180.3" cy="223.2" r="1.1"/><circle cx="176.4" cy="206.2" r="1.1"/><circle cx="166.7" cy="241.3" r="1.1"/><circle cx="175.2" cy="193.2" r="1.1"/><circle cx="182.9" cy="217.1" r="1.1"/><circle cx="177.5" cy="228.0" r="1.1"/><circle cx="183.7" cy="238.9" r="1.1"/><circle cx="174.7" cy="216.6" r="1.1"/><circle cx="170.0" cy="230.7" r="1.1"/><circle cx="175.4" cy="200.3" r="1.1"/><circle cx="172.8" cy="237.4" r="1.1"/><circle cx="176.0" cy="224.9" r="1.1"/><circle cx="166.5" cy="199.2" r="1.1"/><circle cx="174.2" cy="232.3" r="1.1"/><circle cx="174.2" cy="218.0" r="1.1"/><circle cx="173.0" cy="217.9" r="1.1"/><circle cx="184.1" cy="209.3" r="1.1"/><circle cx="183.0" cy="201.7" r="1.1"/><circle cx="172.1" cy="194.4" r="1.1"/><circle cx="166.9" cy="236.4" r="1.1"/><circle cx="168.7" cy="247.1" r="1.1"/><circle cx="180.4" cy="207.5" r="1.1"/><circle cx="174.5" cy="213.0" r="1.1"/><circle cx="186.0" cy="213.9" r="1.1"/><circle cx="169.0" cy="219.8" r="1.1"/><circle cx="182.1" cy="229.5" r="1.1"/><circle cx="168.4" cy="199.7" r="1.1"/><circle cx="176.7" cy="201.9" r="1.1"/><circle cx="179.2" cy="232.5" r="1.1"/><circle cx="185.7" cy="214.1" r="1.1"/><circle cx="167.3" cy="193.5" r="1.1"/><circle cx="181.5" cy="205.1" r="1.1"/><circle cx="167.3" cy="204.6" r="1.1"/><circle cx="208.7" cy="224.1" r="1.1"/><circle cx="203.8" cy="249.4" r="1.1"/><circle cx="203.2" cy="239.6" r="1.1"/><circle cx="201.7" cy="192.8" r="1.1"/><circle cx="208.7" cy="203.6" r="1.1"/><circle cx="210.0" cy="226.5" r="1.1"/><circle cx="200.6" cy="236.4" r="1.1"/><circle cx="207.1" cy="236.4" r="1.1"/><circle cx="205.1" cy="189.7" r="1.1"/><circle cx="197.6" cy="198.5" r="1.1"/><circle cx="198.3" cy="221.1" r="1.1"/><circle cx="200.1" cy="213.7" r="1.1"/><circle cx="204.3" cy="212.4" r="1.1"/><circle cx="201.6" cy="209.7" r="1.1"/><circle cx="208.8" cy="199.0" r="1.1"/><circle cx="205.4" cy="231.5" r="1.1"/><circle cx="211.0" cy="203.6" r="1.1"/><circle cx="204.6" cy="248.5" r="1.1"/><circle cx="201.5" cy="243.6" r="1.1"/><circle cx="196.2" cy="235.1" r="1.1"/><circle cx="202.6" cy="245.9" r="1.1"/><circle cx="202.5" cy="212.7" r="1.1"/><circle cx="206.6" cy="196.5" r="1.1"/><circle cx="205.0" cy="212.5" r="1.1"/><circle cx="204.2" cy="217.1" r="1.1"/><circle cx="212.1" cy="220.8" r="1.1"/><circle cx="214.5" cy="193.2" r="1.1"/><circle cx="204.4" cy="216.1" r="1.1"/><circle cx="217.1" cy="224.3" r="1.1"/><circle cx="197.8" cy="204.3" r="1.1"/><circle cx="214.2" cy="223.0" r="1.1"/><circle cx="199.7" cy="220.8" r="1.1"/><circle cx="204.4" cy="245.1" r="1.1"/><circle cx="200.2" cy="224.6" r="1.1"/><circle cx="195.8" cy="231.3" r="1.1"/><circle cx="205.3" cy="215.0" r="1.1"/><circle cx="207.1" cy="245.2" r="1.1"/><circle cx="204.4" cy="221.2" r="1.1"/><circle cx="197.1" cy="216.6" r="1.1"/><circle cx="213.8" cy="225.7" r="1.1"/><circle cx="202.8" cy="230.7" r="1.1"/><circle cx="207.2" cy="217.9" r="1.1"/><circle cx="201.5" cy="206.2" r="1.1"/><circle cx="211.8" cy="208.0" r="1.1"/><circle cx="210.8" cy="215.6" r="1.1"/><circle cx="201.3" cy="219.2" r="1.1"/><circle cx="199.7" cy="197.9" r="1.1"/><circle cx="213.4" cy="216.9" r="1.1"/><circle cx="205.0" cy="217.8" r="1.1"/><circle cx="214.6" cy="241.5" r="1.1"/><circle cx="211.3" cy="213.8" r="1.1"/><circle cx="208.9" cy="204.2" r="1.1"/><circle cx="197.3" cy="248.1" r="1.1"/><circle cx="197.0" cy="217.3" r="1.1"/><circle cx="205.0" cy="199.3" r="1.1"/><circle cx="214.5" cy="198.2" r="1.1"/><circle cx="198.1" cy="211.7" r="1.1"/><circle cx="208.9" cy="232.8" r="1.1"/><circle cx="204.6" cy="230.4" r="1.1"/><circle cx="206.6" cy="188.5" r="1.1"/><circle cx="208.7" cy="232.5" r="1.1"/><circle cx="203.6" cy="242.4" r="1.1"/><circle cx="204.6" cy="186.4" r="1.1"/><circle cx="235.5" cy="224.1" r="1.1"/><circle cx="233.4" cy="216.2" r="1.1"/><circle cx="230.7" cy="245.6" r="1.1"/><circle cx="240.6" cy="196.9" r="1.1"/><circle cx="231.8" cy="229.2" r="1.1"/><circle cx="232.1" cy="202.1" r="1.1"/><circle cx="245.1" cy="191.0" r="1.1"/><circle cx="232.4" cy="194.0" r="1.1"/><circle cx="236.5" cy="243.3" r="1.1"/><circle cx="235.1" cy="245.1" r="1.1"/><circle cx="240.0" cy="252.8" r="1.1"/><circle cx="235.8" cy="242.0" r="1.1"/><circle cx="243.9" cy="210.3" r="1.1"/><circle cx="230.7" cy="218.9" r="1.1"/><circle cx="227.3" cy="200.4" r="1.1"/><circle cx="225.1" cy="231.7" r="1.1"/><circle cx="244.1" cy="208.0" r="1.1"/><circle cx="237.8" cy="253.0" r="1.1"/><circle cx="228.6" cy="254.7" r="1.1"/><circle cx="236.2" cy="231.6" r="1.1"/><circle cx="232.7" cy="212.9" r="1.1"/><circle cx="224.6" cy="217.5" r="1.1"/><circle cx="239.3" cy="227.3" r="1.1"/><circle cx="226.7" cy="196.9" r="1.1"/><circle cx="228.5" cy="218.7" r="1.1"/><circle cx="230.6" cy="225.2" r="1.1"/><circle cx="244.3" cy="194.5" r="1.1"/><circle cx="237.3" cy="230.4" r="1.1"/><circle cx="231.7" cy="217.5" r="1.1"/><circle cx="226.0" cy="208.4" r="1.1"/><circle cx="235.7" cy="205.3" r="1.1"/><circle cx="245.4" cy="219.3" r="1.1"/><circle cx="243.9" cy="250.1" r="1.1"/><circle cx="242.8" cy="211.9" r="1.1"/><circle cx="233.7" cy="198.3" r="1.1"/><circle cx="244.6" cy="221.6" r="1.1"/><circle cx="235.9" cy="223.4" r="1.1"/><circle cx="231.4" cy="233.1" r="1.1"/><circle cx="239.5" cy="216.2" r="1.1"/><circle cx="241.6" cy="230.2" r="1.1"/><circle cx="225.0" cy="241.0" r="1.1"/><circle cx="229.3" cy="230.6" r="1.1"/><circle cx="228.1" cy="251.8" r="1.1"/><circle cx="226.5" cy="197.1" r="1.1"/><circle cx="235.6" cy="239.9" r="1.1"/><circle cx="235.8" cy="231.0" r="1.1"/><circle cx="264.5" cy="294.5" r="1.1"/><circle cx="263.0" cy="262.2" r="1.1"/><circle cx="272.3" cy="211.7" r="1.1"/><circle cx="270.7" cy="213.0" r="1.1"/><circle cx="269.2" cy="216.8" r="1.1"/><circle cx="255.6" cy="255.7" r="1.1"/><circle cx="257.0" cy="292.8" r="1.1"/><circle cx="256.6" cy="273.5" r="1.1"/><circle cx="259.8" cy="250.0" r="1.1"/><circle cx="260.7" cy="213.8" r="1.1"/><circle cx="271.5" cy="293.8" r="1.1"/><circle cx="257.1" cy="288.8" r="1.1"/><circle cx="272.1" cy="246.5" r="1.1"/><circle cx="259.2" cy="213.3" r="1.1"/><circle cx="264.2" cy="303.5" r="1.1"/><circle cx="264.4" cy="297.4" r="1.1"/><circle cx="263.9" cy="267.2" r="1.1"/><circle cx="269.9" cy="212.9" r="1.1"/><circle cx="272.7" cy="244.6" r="1.1"/><circle cx="270.7" cy="226.9" r="1.1"/><circle cx="257.6" cy="244.0" r="1.1"/><circle cx="270.9" cy="209.5" r="1.1"/><circle cx="264.4" cy="302.4" r="1.1"/><circle cx="256.6" cy="237.7" r="1.1"/><circle cx="263.4" cy="220.8" r="1.1"/><circle cx="273.5" cy="236.9" r="1.1"/><circle cx="274.8" cy="249.2" r="1.1"/><circle cx="260.9" cy="305.6" r="1.1"/><circle cx="263.4" cy="228.4" r="1.1"/><circle cx="267.6" cy="255.7" r="1.1"/><circle cx="255.1" cy="264.1" r="1.1"/><circle cx="263.2" cy="225.6" r="1.1"/><circle cx="265.3" cy="250.5" r="1.1"/><circle cx="273.4" cy="239.0" r="1.1"/><circle cx="271.0" cy="289.3" r="1.1"/><circle cx="257.2" cy="276.6" r="1.1"/><circle cx="268.7" cy="238.0" r="1.1"/><circle cx="262.6" cy="252.8" r="1.1"/><circle cx="272.5" cy="217.8" r="1.1"/><circle cx="272.2" cy="217.2" r="1.1"/><circle cx="263.2" cy="259.9" r="1.1"/><circle cx="267.2" cy="285.1" r="1.1"/><circle cx="267.8" cy="227.0" r="1.1"/><circle cx="272.4" cy="257.3" r="1.1"/><circle cx="264.5" cy="226.7" r="1.1"/><circle cx="269.8" cy="305.3" r="1.1"/><circle cx="271.4" cy="264.8" r="1.1"/><circle cx="265.1" cy="243.9" r="1.1"/><circle cx="261.6" cy="240.2" r="1.1"/><circle cx="260.6" cy="275.7" r="1.1"/><circle cx="267.4" cy="272.1" r="1.1"/><circle cx="259.8" cy="273.4" r="1.1"/><circle cx="262.0" cy="252.8" r="1.1"/><circle cx="267.8" cy="287.7" r="1.1"/><circle cx="273.6" cy="303.9" r="1.1"/><circle cx="255.8" cy="216.6" r="1.1"/><circle cx="269.0" cy="235.4" r="1.1"/><circle cx="274.0" cy="255.1" r="1.1"/><circle cx="254.4" cy="235.0" r="1.1"/><circle cx="271.0" cy="239.0" r="1.1"/><circle cx="257.0" cy="257.1" r="1.1"/><circle cx="266.5" cy="257.5" r="1.1"/><circle cx="267.3" cy="251.2" r="1.1"/><circle cx="273.3" cy="260.3" r="1.1"/><circle cx="266.2" cy="215.6" r="1.1"/><circle cx="257.2" cy="296.0" r="1.1"/><circle cx="267.3" cy="268.8" r="1.1"/><circle cx="270.2" cy="224.7" r="1.1"/><circle cx="273.1" cy="232.9" r="1.1"/><circle cx="270.5" cy="233.3" r="1.1"/><circle cx="266.5" cy="252.7" r="1.1"/><circle cx="269.5" cy="265.2" r="1.1"/><circle cx="260.3" cy="305.4" r="1.1"/><circle cx="257.1" cy="241.9" r="1.1"/><circle cx="303.1" cy="282.3" r="1.1"/><circle cx="292.2" cy="219.5" r="1.1"/><circle cx="287.2" cy="304.6" r="1.1"/><circle cx="296.6" cy="215.4" r="1.1"/><circle cx="291.9" cy="245.9" r="1.1"/><circle cx="292.3" cy="236.6" r="1.1"/><circle cx="295.8" cy="278.7" r="1.1"/><circle cx="299.0" cy="292.0" r="1.1"/><circle cx="289.9" cy="276.7" r="1.1"/><circle cx="285.8" cy="246.8" r="1.1"/><circle cx="295.3" cy="247.9" r="1.1"/><circle cx="297.0" cy="290.7" r="1.1"/><circle cx="286.6" cy="248.4" r="1.1"/><circle cx="289.1" cy="281.9" r="1.1"/><circle cx="300.4" cy="252.4" r="1.1"/><circle cx="302.4" cy="218.4" r="1.1"/><circle cx="286.8" cy="213.8" r="1.1"/><circle cx="296.9" cy="274.7" r="1.1"/><circle cx="298.3" cy="239.2" r="1.1"/><circle cx="294.1" cy="227.3" r="1.1"/><circle cx="302.4" cy="279.7" r="1.1"/><circle cx="295.6" cy="245.5" r="1.1"/><circle cx="303.3" cy="276.6" r="1.1"/><circle cx="290.7" cy="241.4" r="1.1"/><circle cx="296.7" cy="218.2" r="1.1"/><circle cx="296.8" cy="243.6" r="1.1"/><circle cx="302.8" cy="280.5" r="1.1"/><circle cx="288.9" cy="222.1" r="1.1"/><circle cx="294.3" cy="265.6" r="1.1"/><circle cx="291.8" cy="265.5" r="1.1"/><circle cx="299.5" cy="284.6" r="1.1"/><circle cx="296.5" cy="251.4" r="1.1"/><circle cx="293.8" cy="251.3" r="1.1"/><circle cx="283.6" cy="214.1" r="1.1"/><circle cx="287.7" cy="293.3" r="1.1"/><circle cx="286.8" cy="299.3" r="1.1"/><circle cx="287.3" cy="245.1" r="1.1"/><circle cx="292.4" cy="236.6" r="1.1"/><circle cx="288.8" cy="237.2" r="1.1"/><circle cx="300.6" cy="268.5" r="1.1"/><circle cx="293.3" cy="242.4" r="1.1"/><circle cx="301.8" cy="213.0" r="1.1"/><circle cx="285.7" cy="288.3" r="1.1"/><circle cx="302.4" cy="290.8" r="1.1"/><circle cx="289.3" cy="217.6" r="1.1"/><circle cx="295.2" cy="237.9" r="1.1"/><circle cx="301.0" cy="269.4" r="1.1"/><circle cx="287.5" cy="289.4" r="1.1"/><circle cx="294.0" cy="266.4" r="1.1"/><circle cx="288.0" cy="270.9" r="1.1"/><circle cx="300.1" cy="295.5" r="1.1"/><circle cx="286.8" cy="256.1" r="1.1"/><circle cx="297.1" cy="279.7" r="1.1"/><circle cx="303.9" cy="231.8" r="1.1"/><circle cx="291.2" cy="239.6" r="1.1"/><circle cx="303.0" cy="250.6" r="1.1"/><circle cx="289.0" cy="298.4" r="1.1"/><circle cx="299.9" cy="268.8" r="1.1"/><circle cx="289.4" cy="269.4" r="1.1"/><circle cx="299.8" cy="272.6" r="1.1"/><circle cx="290.9" cy="221.2" r="1.1"/><circle cx="303.8" cy="273.2" r="1.1"/><circle cx="285.6" cy="218.0" r="1.1"/><circle cx="286.2" cy="248.3" r="1.1"/><circle cx="303.1" cy="270.1" r="1.1"/><circle cx="284.4" cy="236.0" r="1.1"/><circle cx="296.6" cy="225.7" r="1.1"/><circle cx="296.0" cy="218.2" r="1.1"/><circle cx="295.3" cy="254.3" r="1.1"/><circle cx="295.0" cy="296.9" r="1.1"/><circle cx="288.1" cy="241.5" r="1.1"/><circle cx="296.0" cy="264.1" r="1.1"/><circle cx="297.4" cy="293.7" r="1.1"/><circle cx="301.0" cy="298.4" r="1.1"/><circle cx="284.5" cy="269.1" r="1.1"/><circle cx="291.1" cy="252.2" r="1.1"/><circle cx="287.9" cy="213.5" r="1.1"/><circle cx="301.0" cy="212.9" r="1.1"/><circle cx="297.7" cy="257.9" r="1.1"/><circle cx="292.4" cy="266.5" r="1.1"/><circle cx="302.4" cy="285.9" r="1.1"/><circle cx="1149.3" cy="254.8" r="1.1"/><circle cx="1149.8" cy="284.7" r="1.1"/><circle cx="1136.4" cy="265.2" r="1.1"/><circle cx="1140.5" cy="255.2" r="1.1"/><circle cx="1141.2" cy="264.7" r="1.1"/><circle cx="1143.0" cy="263.1" r="1.1"/><circle cx="1147.7" cy="245.1" r="1.1"/><circle cx="1147.9" cy="289.8" r="1.1"/><circle cx="1141.0" cy="273.0" r="1.1"/><circle cx="1141.2" cy="296.5" r="1.1"/><circle cx="1155.3" cy="244.3" r="1.1"/><circle cx="1150.8" cy="284.5" r="1.1"/><circle cx="1147.1" cy="242.9" r="1.1"/><circle cx="1150.3" cy="250.7" r="1.1"/><circle cx="1138.9" cy="293.1" r="1.1"/><circle cx="1153.9" cy="299.7" r="1.1"/><circle cx="1146.0" cy="290.7" r="1.1"/><circle cx="1149.1" cy="260.8" r="1.1"/><circle cx="1147.7" cy="254.4" r="1.1"/><circle cx="1137.2" cy="293.8" r="1.1"/><circle cx="1140.8" cy="270.3" r="1.1"/><circle cx="1145.3" cy="287.5" r="1.1"/><circle cx="1149.6" cy="259.1" r="1.1"/><circle cx="1151.9" cy="296.3" r="1.1"/><circle cx="1134.7" cy="303.1" r="1.1"/><circle cx="1144.8" cy="256.6" r="1.1"/><circle cx="1134.3" cy="275.1" r="1.1"/><circle cx="1150.2" cy="265.8" r="1.1"/><circle cx="1148.0" cy="246.9" r="1.1"/><circle cx="1152.9" cy="277.9" r="1.1"/><circle cx="1147.8" cy="289.0" r="1.1"/><circle cx="1149.4" cy="275.5" r="1.1"/><circle cx="1147.5" cy="256.7" r="1.1"/><circle cx="1140.2" cy="283.9" r="1.1"/><circle cx="1146.6" cy="278.8" r="1.1"/><circle cx="1152.1" cy="304.8" r="1.1"/><circle cx="1149.0" cy="298.8" r="1.1"/><circle cx="1144.9" cy="247.6" r="1.1"/><circle cx="1144.6" cy="292.7" r="1.1"/><circle cx="1155.5" cy="255.8" r="1.1"/><circle cx="1148.4" cy="281.6" r="1.1"/><circle cx="1155.9" cy="288.4" r="1.1"/><circle cx="1151.8" cy="251.1" r="1.1"/><circle cx="1145.7" cy="301.9" r="1.1"/><circle cx="1145.1" cy="288.7" r="1.1"/><circle cx="1138.8" cy="249.7" r="1.1"/><circle cx="1137.3" cy="242.4" r="1.1"/><circle cx="1135.0" cy="263.8" r="1.1"/><circle cx="1142.7" cy="256.7" r="1.1"/><circle cx="1154.6" cy="277.0" r="1.1"/><circle cx="1144.6" cy="266.4" r="1.1"/><circle cx="1145.7" cy="295.1" r="1.1"/><circle cx="1144.8" cy="302.2" r="1.1"/><circle cx="1145.8" cy="257.2" r="1.1"/><circle cx="1142.2" cy="307.1" r="1.1"/><circle cx="1154.8" cy="256.2" r="1.1"/><circle cx="1146.0" cy="244.7" r="1.1"/><circle cx="1155.8" cy="240.9" r="1.1"/><circle cx="1142.2" cy="264.3" r="1.1"/><circle cx="1141.6" cy="241.5" r="1.1"/><circle cx="1139.4" cy="268.1" r="1.1"/><circle cx="1138.8" cy="241.6" r="1.1"/><circle cx="1143.0" cy="249.8" r="1.1"/><circle cx="1144.7" cy="276.2" r="1.1"/><circle cx="1138.3" cy="281.8" r="1.1"/><circle cx="1141.8" cy="287.9" r="1.1"/><circle cx="1154.7" cy="266.1" r="1.1"/><circle cx="1147.9" cy="300.8" r="1.1"/><circle cx="1140.2" cy="297.6" r="1.1"/><circle cx="1142.0" cy="298.1" r="1.1"/><circle cx="1154.7" cy="279.0" r="1.1"/><circle cx="1138.1" cy="276.0" r="1.1"/><circle cx="1150.1" cy="253.1" r="1.1"/><circle cx="1153.5" cy="288.5" r="1.1"/><circle cx="1177.7" cy="274.7" r="1.1"/><circle cx="1172.7" cy="288.4" r="1.1"/><circle cx="1183.0" cy="258.6" r="1.1"/><circle cx="1171.9" cy="282.3" r="1.1"/><circle cx="1165.0" cy="266.5" r="1.1"/><circle cx="1176.6" cy="296.2" r="1.1"/><circle cx="1184.3" cy="269.3" r="1.1"/><circle cx="1180.8" cy="271.2" r="1.1"/><circle cx="1176.7" cy="249.6" r="1.1"/><circle cx="1171.2" cy="303.8" r="1.1"/><circle cx="1178.6" cy="268.3" r="1.1"/><circle cx="1164.3" cy="294.3" r="1.1"/><circle cx="1176.8" cy="248.7" r="1.1"/><circle cx="1169.0" cy="292.2" r="1.1"/><circle cx="1175.6" cy="275.3" r="1.1"/><circle cx="1177.1" cy="292.6" r="1.1"/><circle cx="1179.2" cy="280.4" r="1.1"/><circle cx="1177.5" cy="279.1" r="1.1"/><circle cx="1178.3" cy="287.0" r="1.1"/><circle cx="1170.3" cy="280.0" r="1.1"/><circle cx="1180.5" cy="274.2" r="1.1"/><circle cx="1176.8" cy="295.8" r="1.1"/><circle cx="1181.3" cy="270.0" r="1.1"/><circle cx="1168.0" cy="295.9" r="1.1"/><circle cx="1172.6" cy="303.4" r="1.1"/><circle cx="1170.1" cy="305.7" r="1.1"/><circle cx="1181.6" cy="267.3" r="1.1"/><circle cx="1174.0" cy="254.2" r="1.1"/><circle cx="1179.4" cy="302.9" r="1.1"/><circle cx="1170.8" cy="275.6" r="1.1"/><circle cx="1177.1" cy="306.9" r="1.1"/><circle cx="1177.1" cy="277.5" r="1.1"/><circle cx="1175.9" cy="300.7" r="1.1"/><circle cx="1178.4" cy="292.1" r="1.1"/><circle cx="1185.4" cy="280.8" r="1.1"/><circle cx="1169.5" cy="242.3" r="1.1"/><circle cx="1177.1" cy="250.6" r="1.1"/><circle cx="1179.2" cy="278.4" r="1.1"/><circle cx="1167.1" cy="270.4" r="1.1"/><circle cx="1172.0" cy="256.8" r="1.1"/><circle cx="1171.4" cy="277.4" r="1.1"/><circle cx="1184.0" cy="288.2" r="1.1"/><circle cx="1183.5" cy="248.9" r="1.1"/><circle cx="1175.6" cy="309.1" r="1.1"/><circle cx="1175.3" cy="298.5" r="1.1"/><circle cx="1177.6" cy="291.8" r="1.1"/><circle cx="1179.9" cy="266.5" r="1.1"/><circle cx="1173.9" cy="256.1" r="1.1"/><circle cx="1171.7" cy="289.9" r="1.1"/><circle cx="1173.9" cy="258.4" r="1.1"/><circle cx="1176.0" cy="261.7" r="1.1"/><circle cx="1178.5" cy="268.1" r="1.1"/><circle cx="1175.9" cy="275.1" r="1.1"/><circle cx="1173.1" cy="253.8" r="1.1"/><circle cx="1170.5" cy="305.4" r="1.1"/><circle cx="1174.3" cy="258.8" r="1.1"/><circle cx="1174.9" cy="266.6" r="1.1"/><circle cx="1177.4" cy="254.1" r="1.1"/><circle cx="1175.7" cy="295.5" r="1.1"/><circle cx="1169.8" cy="255.0" r="1.1"/><circle cx="1175.4" cy="251.0" r="1.1"/><circle cx="1174.6" cy="263.4" r="1.1"/><circle cx="1183.0" cy="271.8" r="1.1"/><circle cx="1180.1" cy="257.0" r="1.1"/><circle cx="1175.0" cy="290.6" r="1.1"/><circle cx="1178.2" cy="268.4" r="1.1"/><circle cx="1176.9" cy="295.6" r="1.1"/><circle cx="1172.9" cy="258.6" r="1.1"/><circle cx="1183.4" cy="246.7" r="1.1"/><circle cx="1165.6" cy="242.3" r="1.1"/><circle cx="1171.0" cy="241.7" r="1.1"/><circle cx="1171.3" cy="305.5" r="1.1"/><circle cx="1174.5" cy="301.4" r="1.1"/><circle cx="1184.6" cy="253.4" r="1.1"/><circle cx="1177.0" cy="264.9" r="1.1"/><circle cx="1164.2" cy="282.1" r="1.1"/><circle cx="1183.0" cy="262.1" r="1.1"/></g>
<line x1="71.1" y1="52" x2="71.1" y2="415.3" stroke="#6c6c6c" stroke-width="1.7"/>
<line x1="70.3" y1="415.3" x2="1250.6" y2="415.3" stroke="#262626" stroke-width="1.6"/>
<line x1="71" y1="52.10" x2="77.7" y2="52.10" stroke="#1a1a1a" stroke-width="1.3"/>
<line x1="71" y1="370.60" x2="77.7" y2="370.60" stroke="#1a1a1a" stroke-width="1.3"/>
<line x1="71" y1="325.90" x2="77.7" y2="325.90" stroke="#1a1a1a" stroke-width="1.3"/>
<line x1="71" y1="281.20" x2="77.7" y2="281.20" stroke="#1a1a1a" stroke-width="1.3"/>
<line x1="71" y1="236.50" x2="77.7" y2="236.50" stroke="#1a1a1a" stroke-width="1.3"/>
<line x1="71" y1="191.80" x2="77.7" y2="191.80" stroke="#1a1a1a" stroke-width="1.3"/>
<line x1="71" y1="147.10" x2="77.7" y2="147.10" stroke="#1a1a1a" stroke-width="1.3"/>
<line x1="65.1" y1="90.3" x2="77" y2="102.7" stroke="#1a1a1a" stroke-width="1.4"/>
<line x1="65.1" y1="96.8" x2="77" y2="109" stroke="#1a1a1a" stroke-width="1.4"/>
<g font-family="Liberation Sans, sans-serif" font-size="16.5" fill="#1a1a1a" text-anchor="end">
<text transform="translate(59.5,58.00) scale(0.88,1)">1.0</text>
<text transform="translate(59.5,153.00) scale(0.88,1)">0.6</text>
<text transform="translate(59.5,197.70) scale(0.88,1)">0.5</text>
<text transform="translate(59.5,242.40) scale(0.88,1)">0.4</text>
<text transform="translate(59.5,287.10) scale(0.88,1)">0.3</text>
<text transform="translate(59.5,331.80) scale(0.88,1)">0.2</text>
<text transform="translate(59.5,376.50) scale(0.88,1)">0.1</text>
<text transform="translate(59.5,421.20) scale(0.88,1)">0</text>
</g>
<g font-family="Liberation Sans, sans-serif" font-size="16" fill="#1a1a1a" text-anchor="end">
<text transform="translate(94.30,432.6) rotate(-90) scale(0.87,1)">1-1</text>
<text transform="translate(123.65,432.6) rotate(-90) scale(0.87,1)">1-2</text>
<text transform="translate(153.00,432.6) rotate(-90) scale(0.87,1)">2-1</text>
<text transform="translate(182.35,432.6) rotate(-90) scale(0.87,1)">2-2</text>
<text transform="translate(211.70,432.6) rotate(-90) scale(0.87,1)">3-1</text>
<text transform="translate(241.05,432.6) rotate(-90) scale(0.87,1)">3-2</text>
<text transform="translate(270.40,432.6) rotate(-90) scale(0.87,1)">4-1</text>
<text transform="translate(299.75,432.6) rotate(-90) scale(0.87,1)">4-2</text>
<text transform="translate(329.10,432.6) rotate(-90) scale(0.87,1)">5-1</text>
<text transform="translate(358.45,432.6) rotate(-90) scale(0.87,1)">5-2</text>
<text transform="translate(387.80,432.6) rotate(-90) scale(0.87,1)">6-1</text>
<text transform="translate(417.15,432.6) rotate(-90) scale(0.87,1)">6-2</text>
<text transform="translate(446.50,432.6) rotate(-90) scale(0.87,1)">7-1</text>
<text transform="translate(475.85,432.6) rotate(-90) scale(0.87,1)">7-2</text>
<text transform="translate(505.20,432.6) rotate(-90) scale(0.87,1)">8-1</text>
<text transform="translate(534.55,432.6) rotate(-90) scale(0.87,1)">8-2</text>
<text transform="translate(563.90,432.6) rotate(-90) scale(0.87,1)">9-1</text>
<text transform="translate(593.25,432.6) rotate(-90) scale(0.87,1)">9-2</text>
<text transform="translate(622.60,432.6) rotate(-90) scale(0.87,1)">10-1</text>
<text transform="translate(651.95,432.6) rotate(-90) scale(0.87,1)">10-2</text>
<text transform="translate(681.30,432.6) rotate(-90) scale(0.87,1)">11-1</text>
<text transform="translate(710.65,432.6) rotate(-90) scale(0.87,1)">11-2</text>
<text transform="translate(740.00,432.6) rotate(-90) scale(0.87,1)">12-1</text>
<text transform="translate(769.35,432.6) rotate(-90) scale(0.87,1)">12-2</text>
<text transform="translate(798.70,432.6) rotate(-90) scale(0.87,1)">13-1</text>
<text transform="translate(828.05,432.6) rotate(-90) scale(0.87,1)">13-2</text>
<text transform="translate(857.40,432.6) rotate(-90) scale(0.87,1)">14-1</text>
<text transform="translate(886.75,432.6) rotate(-90) scale(0.87,1)">14-2</text>
<text transform="translate(916.10,432.6) rotate(-90) scale(0.87,1)">15-1</text>
<text transform="translate(945.45,432.6) rotate(-90) scale(0.87,1)">15-2</text>
<text transform="translate(974.80,432.6) rotate(-90) scale(0.87,1)">16-1</text>
<text transform="translate(1004.15,432.6) rotate(-90) scale(0.87,1)">16-2</text>
<text transform="translate(1033.50,432.6) rotate(-90) scale(0.87,1)">17-1</text>
<text transform="translate(1062.85,432.6) rotate(-90) scale(0.87,1)">17-2</text>
<text transform="translate(1092.20,432.6) rotate(-90) scale(0.87,1)">18-1</text>
<text transform="translate(1121.55,432.6) rotate(-90) scale(0.87,1)">18-2</text>
<text transform="translate(1150.90,432.6) rotate(-90) scale(0.87,1)">19-1</text>
<text transform="translate(1180.25,432.6) rotate(-90) scale(0.87,1)">19-2</text>
<text transform="translate(1209.60,432.6) rotate(-90) scale(0.87,1)">20-1</text>
<text transform="translate(1238.95,432.6) rotate(-90) scale(0.87,1)">20-2</text>
</g>
<text transform="translate(25,232.9) rotate(-90)" font-family="Liberation Sans, sans-serif" font-weight="bold" font-size="18" text-anchor="middle" fill="#111" textLength="187" lengthAdjust="spacingAndGlyphs">CpG methylation level</text>
<text transform="translate(19.3,37.9) scale(0.87,1)" font-family="Liberation Sans, sans-serif" font-weight="bold" font-size="32" fill="#111">B</text>
</svg></body></html>
